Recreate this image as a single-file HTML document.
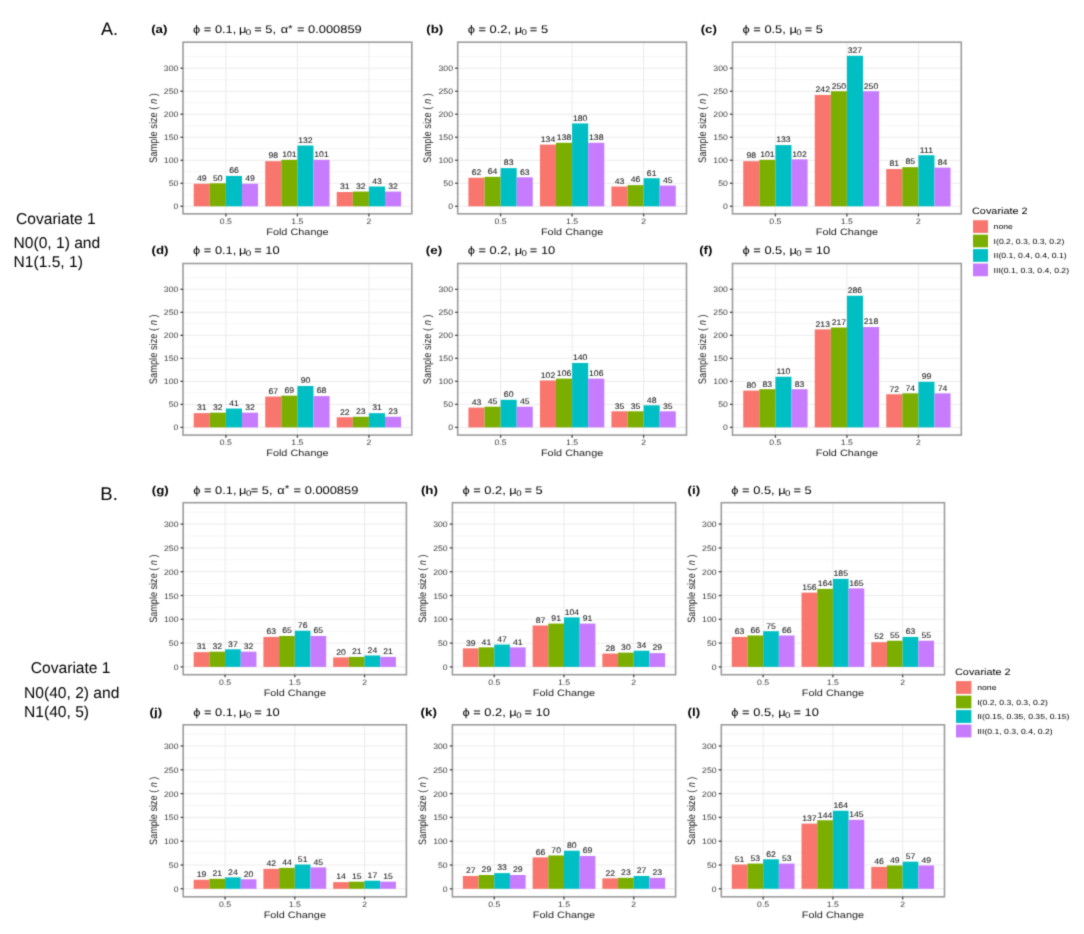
<!DOCTYPE html>
<html><head><meta charset="utf-8"><title>Sample size figure</title>
<style>
html,body{margin:0;padding:0;background:#fff;}
body{width:1084px;height:934px;overflow:hidden;}
svg{display:block;font-family:"Liberation Sans", sans-serif;text-rendering:geometricPrecision;}
.bl{stroke:#222;stroke-width:0.08px;}
</style></head>
<body>
<svg width="1084" height="934" viewBox="0 0 1084 934">
<defs><filter id="soft" x="0" y="0" width="1084" height="934" filterUnits="userSpaceOnUse" color-interpolation-filters="sRGB"><feConvolveMatrix order="3" kernelMatrix="0.0225 0.1050 0.0225 0.1050 0.4900 0.1050 0.0225 0.1050 0.0225" edgeMode="duplicate"/></filter></defs>
<g filter="url(#soft)">
<rect width="1084" height="934" fill="#fff"/>
<line x1="183.00" x2="411.80" y1="194.79" y2="194.79" stroke="#f2f2f2" stroke-width="0.8"/>
<line x1="183.00" x2="411.80" y1="171.78" y2="171.78" stroke="#f2f2f2" stroke-width="0.8"/>
<line x1="183.00" x2="411.80" y1="148.76" y2="148.76" stroke="#f2f2f2" stroke-width="0.8"/>
<line x1="183.00" x2="411.80" y1="125.75" y2="125.75" stroke="#f2f2f2" stroke-width="0.8"/>
<line x1="183.00" x2="411.80" y1="102.73" y2="102.73" stroke="#f2f2f2" stroke-width="0.8"/>
<line x1="183.00" x2="411.80" y1="79.72" y2="79.72" stroke="#f2f2f2" stroke-width="0.8"/>
<line x1="183.00" x2="411.80" y1="56.70" y2="56.70" stroke="#f2f2f2" stroke-width="0.8"/>
<line x1="183.00" x2="411.80" y1="45.20" y2="45.20" stroke="#f8f8f8" stroke-width="0.8"/>
<line x1="183.00" x2="411.80" y1="206.30" y2="206.30" stroke="#ebebeb" stroke-width="1"/>
<line x1="183.00" x2="411.80" y1="183.29" y2="183.29" stroke="#ebebeb" stroke-width="1"/>
<line x1="183.00" x2="411.80" y1="160.27" y2="160.27" stroke="#ebebeb" stroke-width="1"/>
<line x1="183.00" x2="411.80" y1="137.25" y2="137.25" stroke="#ebebeb" stroke-width="1"/>
<line x1="183.00" x2="411.80" y1="114.24" y2="114.24" stroke="#ebebeb" stroke-width="1"/>
<line x1="183.00" x2="411.80" y1="91.23" y2="91.23" stroke="#ebebeb" stroke-width="1"/>
<line x1="183.00" x2="411.80" y1="68.21" y2="68.21" stroke="#ebebeb" stroke-width="1"/>
<line x1="225.90" x2="225.90" y1="42.20" y2="213.80" stroke="#ebebeb" stroke-width="1"/>
<line x1="297.40" x2="297.40" y1="42.20" y2="213.80" stroke="#ebebeb" stroke-width="1"/>
<line x1="368.90" x2="368.90" y1="42.20" y2="213.80" stroke="#ebebeb" stroke-width="1"/>
<rect x="193.72" y="183.75" width="16.09" height="22.55" fill="#F8766D"/>
<rect x="209.81" y="183.29" width="16.09" height="23.02" fill="#7CAE00"/>
<rect x="225.90" y="175.92" width="16.09" height="30.38" fill="#00BFC4"/>
<rect x="241.99" y="183.75" width="16.09" height="22.55" fill="#C77CFF"/>
<rect x="265.22" y="161.19" width="16.09" height="45.11" fill="#F8766D"/>
<rect x="281.31" y="159.81" width="16.09" height="46.49" fill="#7CAE00"/>
<rect x="297.40" y="145.54" width="16.09" height="60.76" fill="#00BFC4"/>
<rect x="313.49" y="159.81" width="16.09" height="46.49" fill="#C77CFF"/>
<rect x="336.72" y="192.03" width="16.09" height="14.27" fill="#F8766D"/>
<rect x="352.81" y="191.57" width="16.09" height="14.73" fill="#7CAE00"/>
<rect x="368.90" y="186.51" width="16.09" height="19.79" fill="#00BFC4"/>
<rect x="384.99" y="191.57" width="16.09" height="14.73" fill="#C77CFF"/>
<text transform="translate(201.77,181.05) scale(1.07,1)" font-size="8.1" text-anchor="middle" font-weight="normal" fill="#222"  class="bl">49</text>
<text transform="translate(217.86,180.59) scale(1.07,1)" font-size="8.1" text-anchor="middle" font-weight="normal" fill="#222"  class="bl">50</text>
<text transform="translate(233.94,173.22) scale(1.07,1)" font-size="8.1" text-anchor="middle" font-weight="normal" fill="#222"  class="bl">66</text>
<text transform="translate(250.03,181.05) scale(1.07,1)" font-size="8.1" text-anchor="middle" font-weight="normal" fill="#222"  class="bl">49</text>
<text transform="translate(273.27,158.49) scale(1.07,1)" font-size="8.1" text-anchor="middle" font-weight="normal" fill="#222"  class="bl">98</text>
<text transform="translate(289.36,157.11) scale(1.07,1)" font-size="8.1" text-anchor="middle" font-weight="normal" fill="#222"  class="bl">101</text>
<text transform="translate(305.44,142.84) scale(1.07,1)" font-size="8.1" text-anchor="middle" font-weight="normal" fill="#222"  class="bl">132</text>
<text transform="translate(321.53,157.11) scale(1.07,1)" font-size="8.1" text-anchor="middle" font-weight="normal" fill="#222"  class="bl">101</text>
<text transform="translate(344.77,189.33) scale(1.07,1)" font-size="8.1" text-anchor="middle" font-weight="normal" fill="#222"  class="bl">31</text>
<text transform="translate(360.86,188.87) scale(1.07,1)" font-size="8.1" text-anchor="middle" font-weight="normal" fill="#222"  class="bl">32</text>
<text transform="translate(376.94,183.81) scale(1.07,1)" font-size="8.1" text-anchor="middle" font-weight="normal" fill="#222"  class="bl">43</text>
<text transform="translate(393.03,188.87) scale(1.07,1)" font-size="8.1" text-anchor="middle" font-weight="normal" fill="#222"  class="bl">32</text>
<rect x="183.00" y="42.20" width="228.80" height="171.60" fill="none" stroke="#9c9c9c" stroke-width="1.6"/>
<line x1="180.40" x2="183.00" y1="206.30" y2="206.30" stroke="#444" stroke-width="1.3"/>
<text transform="translate(178.30,209.30) scale(1.1,1)" font-size="7.9" text-anchor="end" font-weight="normal" fill="#3a3a3a" >0</text>
<line x1="180.40" x2="183.00" y1="183.29" y2="183.29" stroke="#444" stroke-width="1.3"/>
<text transform="translate(178.30,186.29) scale(1.1,1)" font-size="7.9" text-anchor="end" font-weight="normal" fill="#3a3a3a" >50</text>
<line x1="180.40" x2="183.00" y1="160.27" y2="160.27" stroke="#444" stroke-width="1.3"/>
<text transform="translate(178.30,163.27) scale(1.1,1)" font-size="7.9" text-anchor="end" font-weight="normal" fill="#3a3a3a" >100</text>
<line x1="180.40" x2="183.00" y1="137.25" y2="137.25" stroke="#444" stroke-width="1.3"/>
<text transform="translate(178.30,140.25) scale(1.1,1)" font-size="7.9" text-anchor="end" font-weight="normal" fill="#3a3a3a" >150</text>
<line x1="180.40" x2="183.00" y1="114.24" y2="114.24" stroke="#444" stroke-width="1.3"/>
<text transform="translate(178.30,117.24) scale(1.1,1)" font-size="7.9" text-anchor="end" font-weight="normal" fill="#3a3a3a" >200</text>
<line x1="180.40" x2="183.00" y1="91.23" y2="91.23" stroke="#444" stroke-width="1.3"/>
<text transform="translate(178.30,94.23) scale(1.1,1)" font-size="7.9" text-anchor="end" font-weight="normal" fill="#3a3a3a" >250</text>
<line x1="180.40" x2="183.00" y1="68.21" y2="68.21" stroke="#444" stroke-width="1.3"/>
<text transform="translate(178.30,71.21) scale(1.1,1)" font-size="7.9" text-anchor="end" font-weight="normal" fill="#3a3a3a" >300</text>
<line x1="225.90" x2="225.90" y1="213.80" y2="216.40" stroke="#444" stroke-width="1.3"/>
<text transform="translate(225.90,223.80) scale(1.1,1)" font-size="7.9" text-anchor="middle" font-weight="normal" fill="#3a3a3a" >0.5</text>
<line x1="297.40" x2="297.40" y1="213.80" y2="216.40" stroke="#444" stroke-width="1.3"/>
<text transform="translate(297.40,223.80) scale(1.1,1)" font-size="7.9" text-anchor="middle" font-weight="normal" fill="#3a3a3a" >1.5</text>
<line x1="368.90" x2="368.90" y1="213.80" y2="216.40" stroke="#444" stroke-width="1.3"/>
<text transform="translate(368.90,223.80) scale(1.1,1)" font-size="7.9" text-anchor="middle" font-weight="normal" fill="#3a3a3a" >2</text>
<text transform="translate(297.40,234.70) scale(1.17,1)" font-size="9.3" text-anchor="middle" font-weight="normal" fill="#1a1a1a" >Fold Change</text>
<text transform="translate(156.70,128.00) scale(1.17,1) rotate(-90)" font-size="9.3" text-anchor="middle" fill="#1a1a1a">Sample size ( <tspan font-style="italic">n</tspan> )</text>
<text transform="translate(151.15,33.10) scale(1.17,1)" font-size="11.4" text-anchor="start" font-weight="bold" fill="#000" >(a)</text>
<text transform="translate(193.00,33.10) scale(1.17,1)" font-size="11" fill="#000">ϕ = 0.1, <tspan dx="-0.85">μ</tspan><tspan font-size="8.3" dx="-0.51" dy="1.9">0</tspan><tspan dx="-0.51" dy="-1.9"> = 5</tspan><tspan>, </tspan><tspan dx="0.94">α</tspan><tspan font-size="10.2" dy="-1.6">*</tspan><tspan dx="0.51" dy="1.6"> = 0.000859</tspan></text>
<line x1="457.70" x2="686.50" y1="194.79" y2="194.79" stroke="#f2f2f2" stroke-width="0.8"/>
<line x1="457.70" x2="686.50" y1="171.78" y2="171.78" stroke="#f2f2f2" stroke-width="0.8"/>
<line x1="457.70" x2="686.50" y1="148.76" y2="148.76" stroke="#f2f2f2" stroke-width="0.8"/>
<line x1="457.70" x2="686.50" y1="125.75" y2="125.75" stroke="#f2f2f2" stroke-width="0.8"/>
<line x1="457.70" x2="686.50" y1="102.73" y2="102.73" stroke="#f2f2f2" stroke-width="0.8"/>
<line x1="457.70" x2="686.50" y1="79.72" y2="79.72" stroke="#f2f2f2" stroke-width="0.8"/>
<line x1="457.70" x2="686.50" y1="56.70" y2="56.70" stroke="#f2f2f2" stroke-width="0.8"/>
<line x1="457.70" x2="686.50" y1="45.20" y2="45.20" stroke="#f8f8f8" stroke-width="0.8"/>
<line x1="457.70" x2="686.50" y1="206.30" y2="206.30" stroke="#ebebeb" stroke-width="1"/>
<line x1="457.70" x2="686.50" y1="183.29" y2="183.29" stroke="#ebebeb" stroke-width="1"/>
<line x1="457.70" x2="686.50" y1="160.27" y2="160.27" stroke="#ebebeb" stroke-width="1"/>
<line x1="457.70" x2="686.50" y1="137.25" y2="137.25" stroke="#ebebeb" stroke-width="1"/>
<line x1="457.70" x2="686.50" y1="114.24" y2="114.24" stroke="#ebebeb" stroke-width="1"/>
<line x1="457.70" x2="686.50" y1="91.23" y2="91.23" stroke="#ebebeb" stroke-width="1"/>
<line x1="457.70" x2="686.50" y1="68.21" y2="68.21" stroke="#ebebeb" stroke-width="1"/>
<line x1="500.60" x2="500.60" y1="42.20" y2="213.80" stroke="#ebebeb" stroke-width="1"/>
<line x1="572.10" x2="572.10" y1="42.20" y2="213.80" stroke="#ebebeb" stroke-width="1"/>
<line x1="643.60" x2="643.60" y1="42.20" y2="213.80" stroke="#ebebeb" stroke-width="1"/>
<rect x="468.42" y="177.76" width="16.09" height="28.54" fill="#F8766D"/>
<rect x="484.51" y="176.84" width="16.09" height="29.46" fill="#7CAE00"/>
<rect x="500.60" y="168.10" width="16.09" height="38.20" fill="#00BFC4"/>
<rect x="516.69" y="177.30" width="16.09" height="29.00" fill="#C77CFF"/>
<rect x="539.93" y="144.62" width="16.09" height="61.68" fill="#F8766D"/>
<rect x="556.01" y="142.78" width="16.09" height="63.52" fill="#7CAE00"/>
<rect x="572.10" y="123.45" width="16.09" height="82.85" fill="#00BFC4"/>
<rect x="588.19" y="142.78" width="16.09" height="63.52" fill="#C77CFF"/>
<rect x="611.43" y="186.51" width="16.09" height="19.79" fill="#F8766D"/>
<rect x="627.51" y="185.13" width="16.09" height="21.17" fill="#7CAE00"/>
<rect x="643.60" y="178.22" width="16.09" height="28.08" fill="#00BFC4"/>
<rect x="659.69" y="185.59" width="16.09" height="20.71" fill="#C77CFF"/>
<text transform="translate(476.47,175.06) scale(1.07,1)" font-size="8.1" text-anchor="middle" font-weight="normal" fill="#222"  class="bl">62</text>
<text transform="translate(492.56,174.14) scale(1.07,1)" font-size="8.1" text-anchor="middle" font-weight="normal" fill="#222"  class="bl">64</text>
<text transform="translate(508.64,165.40) scale(1.07,1)" font-size="8.1" text-anchor="middle" font-weight="normal" fill="#222"  class="bl">83</text>
<text transform="translate(524.73,174.60) scale(1.07,1)" font-size="8.1" text-anchor="middle" font-weight="normal" fill="#222"  class="bl">63</text>
<text transform="translate(547.97,141.92) scale(1.07,1)" font-size="8.1" text-anchor="middle" font-weight="normal" fill="#222"  class="bl">134</text>
<text transform="translate(564.06,140.08) scale(1.07,1)" font-size="8.1" text-anchor="middle" font-weight="normal" fill="#222"  class="bl">138</text>
<text transform="translate(580.14,120.75) scale(1.07,1)" font-size="8.1" text-anchor="middle" font-weight="normal" fill="#222"  class="bl">180</text>
<text transform="translate(596.23,140.08) scale(1.07,1)" font-size="8.1" text-anchor="middle" font-weight="normal" fill="#222"  class="bl">138</text>
<text transform="translate(619.47,183.81) scale(1.07,1)" font-size="8.1" text-anchor="middle" font-weight="normal" fill="#222"  class="bl">43</text>
<text transform="translate(635.56,182.43) scale(1.07,1)" font-size="8.1" text-anchor="middle" font-weight="normal" fill="#222"  class="bl">46</text>
<text transform="translate(651.64,175.52) scale(1.07,1)" font-size="8.1" text-anchor="middle" font-weight="normal" fill="#222"  class="bl">61</text>
<text transform="translate(667.73,182.89) scale(1.07,1)" font-size="8.1" text-anchor="middle" font-weight="normal" fill="#222"  class="bl">45</text>
<rect x="457.70" y="42.20" width="228.80" height="171.60" fill="none" stroke="#9c9c9c" stroke-width="1.6"/>
<line x1="455.10" x2="457.70" y1="206.30" y2="206.30" stroke="#444" stroke-width="1.3"/>
<text transform="translate(453.00,209.30) scale(1.1,1)" font-size="7.9" text-anchor="end" font-weight="normal" fill="#3a3a3a" >0</text>
<line x1="455.10" x2="457.70" y1="183.29" y2="183.29" stroke="#444" stroke-width="1.3"/>
<text transform="translate(453.00,186.29) scale(1.1,1)" font-size="7.9" text-anchor="end" font-weight="normal" fill="#3a3a3a" >50</text>
<line x1="455.10" x2="457.70" y1="160.27" y2="160.27" stroke="#444" stroke-width="1.3"/>
<text transform="translate(453.00,163.27) scale(1.1,1)" font-size="7.9" text-anchor="end" font-weight="normal" fill="#3a3a3a" >100</text>
<line x1="455.10" x2="457.70" y1="137.25" y2="137.25" stroke="#444" stroke-width="1.3"/>
<text transform="translate(453.00,140.25) scale(1.1,1)" font-size="7.9" text-anchor="end" font-weight="normal" fill="#3a3a3a" >150</text>
<line x1="455.10" x2="457.70" y1="114.24" y2="114.24" stroke="#444" stroke-width="1.3"/>
<text transform="translate(453.00,117.24) scale(1.1,1)" font-size="7.9" text-anchor="end" font-weight="normal" fill="#3a3a3a" >200</text>
<line x1="455.10" x2="457.70" y1="91.23" y2="91.23" stroke="#444" stroke-width="1.3"/>
<text transform="translate(453.00,94.23) scale(1.1,1)" font-size="7.9" text-anchor="end" font-weight="normal" fill="#3a3a3a" >250</text>
<line x1="455.10" x2="457.70" y1="68.21" y2="68.21" stroke="#444" stroke-width="1.3"/>
<text transform="translate(453.00,71.21) scale(1.1,1)" font-size="7.9" text-anchor="end" font-weight="normal" fill="#3a3a3a" >300</text>
<line x1="500.60" x2="500.60" y1="213.80" y2="216.40" stroke="#444" stroke-width="1.3"/>
<text transform="translate(500.60,223.80) scale(1.1,1)" font-size="7.9" text-anchor="middle" font-weight="normal" fill="#3a3a3a" >0.5</text>
<line x1="572.10" x2="572.10" y1="213.80" y2="216.40" stroke="#444" stroke-width="1.3"/>
<text transform="translate(572.10,223.80) scale(1.1,1)" font-size="7.9" text-anchor="middle" font-weight="normal" fill="#3a3a3a" >1.5</text>
<line x1="643.60" x2="643.60" y1="213.80" y2="216.40" stroke="#444" stroke-width="1.3"/>
<text transform="translate(643.60,223.80) scale(1.1,1)" font-size="7.9" text-anchor="middle" font-weight="normal" fill="#3a3a3a" >2</text>
<text transform="translate(572.10,234.70) scale(1.17,1)" font-size="9.3" text-anchor="middle" font-weight="normal" fill="#1a1a1a" >Fold Change</text>
<text transform="translate(431.40,128.00) scale(1.17,1) rotate(-90)" font-size="9.3" text-anchor="middle" fill="#1a1a1a">Sample size ( <tspan font-style="italic">n</tspan> )</text>
<text transform="translate(426.21,33.10) scale(1.17,1)" font-size="11.4" text-anchor="start" font-weight="bold" fill="#000" >(b)</text>
<text transform="translate(467.70,33.10) scale(1.17,1)" font-size="11" fill="#000">ϕ = 0.2, <tspan dx="0.00">μ</tspan><tspan font-size="8.3" dx="-0.51" dy="1.9">0</tspan><tspan dx="-0.51" dy="-1.9"> = 5</tspan></text>
<line x1="732.50" x2="961.30" y1="194.79" y2="194.79" stroke="#f2f2f2" stroke-width="0.8"/>
<line x1="732.50" x2="961.30" y1="171.78" y2="171.78" stroke="#f2f2f2" stroke-width="0.8"/>
<line x1="732.50" x2="961.30" y1="148.76" y2="148.76" stroke="#f2f2f2" stroke-width="0.8"/>
<line x1="732.50" x2="961.30" y1="125.75" y2="125.75" stroke="#f2f2f2" stroke-width="0.8"/>
<line x1="732.50" x2="961.30" y1="102.73" y2="102.73" stroke="#f2f2f2" stroke-width="0.8"/>
<line x1="732.50" x2="961.30" y1="79.72" y2="79.72" stroke="#f2f2f2" stroke-width="0.8"/>
<line x1="732.50" x2="961.30" y1="56.70" y2="56.70" stroke="#f2f2f2" stroke-width="0.8"/>
<line x1="732.50" x2="961.30" y1="45.20" y2="45.20" stroke="#f8f8f8" stroke-width="0.8"/>
<line x1="732.50" x2="961.30" y1="206.30" y2="206.30" stroke="#ebebeb" stroke-width="1"/>
<line x1="732.50" x2="961.30" y1="183.29" y2="183.29" stroke="#ebebeb" stroke-width="1"/>
<line x1="732.50" x2="961.30" y1="160.27" y2="160.27" stroke="#ebebeb" stroke-width="1"/>
<line x1="732.50" x2="961.30" y1="137.25" y2="137.25" stroke="#ebebeb" stroke-width="1"/>
<line x1="732.50" x2="961.30" y1="114.24" y2="114.24" stroke="#ebebeb" stroke-width="1"/>
<line x1="732.50" x2="961.30" y1="91.23" y2="91.23" stroke="#ebebeb" stroke-width="1"/>
<line x1="732.50" x2="961.30" y1="68.21" y2="68.21" stroke="#ebebeb" stroke-width="1"/>
<line x1="775.40" x2="775.40" y1="42.20" y2="213.80" stroke="#ebebeb" stroke-width="1"/>
<line x1="846.90" x2="846.90" y1="42.20" y2="213.80" stroke="#ebebeb" stroke-width="1"/>
<line x1="918.40" x2="918.40" y1="42.20" y2="213.80" stroke="#ebebeb" stroke-width="1"/>
<rect x="743.23" y="161.19" width="16.09" height="45.11" fill="#F8766D"/>
<rect x="759.31" y="159.81" width="16.09" height="46.49" fill="#7CAE00"/>
<rect x="775.40" y="145.08" width="16.09" height="61.22" fill="#00BFC4"/>
<rect x="791.49" y="159.35" width="16.09" height="46.95" fill="#C77CFF"/>
<rect x="814.73" y="94.91" width="16.09" height="111.39" fill="#F8766D"/>
<rect x="830.81" y="91.23" width="16.09" height="115.08" fill="#7CAE00"/>
<rect x="846.90" y="55.78" width="16.09" height="150.52" fill="#00BFC4"/>
<rect x="862.99" y="91.23" width="16.09" height="115.08" fill="#C77CFF"/>
<rect x="886.23" y="169.02" width="16.09" height="37.28" fill="#F8766D"/>
<rect x="902.31" y="167.17" width="16.09" height="39.13" fill="#7CAE00"/>
<rect x="918.40" y="155.21" width="16.09" height="51.09" fill="#00BFC4"/>
<rect x="934.49" y="167.63" width="16.09" height="38.67" fill="#C77CFF"/>
<text transform="translate(751.27,158.49) scale(1.07,1)" font-size="8.1" text-anchor="middle" font-weight="normal" fill="#222"  class="bl">98</text>
<text transform="translate(767.36,157.11) scale(1.07,1)" font-size="8.1" text-anchor="middle" font-weight="normal" fill="#222"  class="bl">101</text>
<text transform="translate(783.44,142.38) scale(1.07,1)" font-size="8.1" text-anchor="middle" font-weight="normal" fill="#222"  class="bl">133</text>
<text transform="translate(799.53,156.65) scale(1.07,1)" font-size="8.1" text-anchor="middle" font-weight="normal" fill="#222"  class="bl">102</text>
<text transform="translate(822.77,92.21) scale(1.07,1)" font-size="8.1" text-anchor="middle" font-weight="normal" fill="#222"  class="bl">242</text>
<text transform="translate(838.86,88.53) scale(1.07,1)" font-size="8.1" text-anchor="middle" font-weight="normal" fill="#222"  class="bl">250</text>
<text transform="translate(854.94,53.08) scale(1.07,1)" font-size="8.1" text-anchor="middle" font-weight="normal" fill="#222"  class="bl">327</text>
<text transform="translate(871.03,88.53) scale(1.07,1)" font-size="8.1" text-anchor="middle" font-weight="normal" fill="#222"  class="bl">250</text>
<text transform="translate(894.27,166.32) scale(1.07,1)" font-size="8.1" text-anchor="middle" font-weight="normal" fill="#222"  class="bl">81</text>
<text transform="translate(910.36,164.47) scale(1.07,1)" font-size="8.1" text-anchor="middle" font-weight="normal" fill="#222"  class="bl">85</text>
<text transform="translate(926.44,152.51) scale(1.07,1)" font-size="8.1" text-anchor="middle" font-weight="normal" fill="#222"  class="bl">111</text>
<text transform="translate(942.53,164.93) scale(1.07,1)" font-size="8.1" text-anchor="middle" font-weight="normal" fill="#222"  class="bl">84</text>
<rect x="732.50" y="42.20" width="228.80" height="171.60" fill="none" stroke="#9c9c9c" stroke-width="1.6"/>
<line x1="729.90" x2="732.50" y1="206.30" y2="206.30" stroke="#444" stroke-width="1.3"/>
<text transform="translate(727.80,209.30) scale(1.1,1)" font-size="7.9" text-anchor="end" font-weight="normal" fill="#3a3a3a" >0</text>
<line x1="729.90" x2="732.50" y1="183.29" y2="183.29" stroke="#444" stroke-width="1.3"/>
<text transform="translate(727.80,186.29) scale(1.1,1)" font-size="7.9" text-anchor="end" font-weight="normal" fill="#3a3a3a" >50</text>
<line x1="729.90" x2="732.50" y1="160.27" y2="160.27" stroke="#444" stroke-width="1.3"/>
<text transform="translate(727.80,163.27) scale(1.1,1)" font-size="7.9" text-anchor="end" font-weight="normal" fill="#3a3a3a" >100</text>
<line x1="729.90" x2="732.50" y1="137.25" y2="137.25" stroke="#444" stroke-width="1.3"/>
<text transform="translate(727.80,140.25) scale(1.1,1)" font-size="7.9" text-anchor="end" font-weight="normal" fill="#3a3a3a" >150</text>
<line x1="729.90" x2="732.50" y1="114.24" y2="114.24" stroke="#444" stroke-width="1.3"/>
<text transform="translate(727.80,117.24) scale(1.1,1)" font-size="7.9" text-anchor="end" font-weight="normal" fill="#3a3a3a" >200</text>
<line x1="729.90" x2="732.50" y1="91.23" y2="91.23" stroke="#444" stroke-width="1.3"/>
<text transform="translate(727.80,94.23) scale(1.1,1)" font-size="7.9" text-anchor="end" font-weight="normal" fill="#3a3a3a" >250</text>
<line x1="729.90" x2="732.50" y1="68.21" y2="68.21" stroke="#444" stroke-width="1.3"/>
<text transform="translate(727.80,71.21) scale(1.1,1)" font-size="7.9" text-anchor="end" font-weight="normal" fill="#3a3a3a" >300</text>
<line x1="775.40" x2="775.40" y1="213.80" y2="216.40" stroke="#444" stroke-width="1.3"/>
<text transform="translate(775.40,223.80) scale(1.1,1)" font-size="7.9" text-anchor="middle" font-weight="normal" fill="#3a3a3a" >0.5</text>
<line x1="846.90" x2="846.90" y1="213.80" y2="216.40" stroke="#444" stroke-width="1.3"/>
<text transform="translate(846.90,223.80) scale(1.1,1)" font-size="7.9" text-anchor="middle" font-weight="normal" fill="#3a3a3a" >1.5</text>
<line x1="918.40" x2="918.40" y1="213.80" y2="216.40" stroke="#444" stroke-width="1.3"/>
<text transform="translate(918.40,223.80) scale(1.1,1)" font-size="7.9" text-anchor="middle" font-weight="normal" fill="#3a3a3a" >2</text>
<text transform="translate(846.90,234.70) scale(1.17,1)" font-size="9.3" text-anchor="middle" font-weight="normal" fill="#1a1a1a" >Fold Change</text>
<text transform="translate(706.20,128.00) scale(1.17,1) rotate(-90)" font-size="9.3" text-anchor="middle" fill="#1a1a1a">Sample size ( <tspan font-style="italic">n</tspan> )</text>
<text transform="translate(700.65,33.10) scale(1.17,1)" font-size="11.4" text-anchor="start" font-weight="bold" fill="#000" >(c)</text>
<text transform="translate(742.50,33.10) scale(1.17,1)" font-size="11" fill="#000">ϕ = 0.5, <tspan dx="0.00">μ</tspan><tspan font-size="8.3" dx="-0.51" dy="1.9">0</tspan><tspan dx="-0.51" dy="-1.9"> = 5</tspan></text>
<line x1="183.00" x2="411.80" y1="415.89" y2="415.89" stroke="#f2f2f2" stroke-width="0.8"/>
<line x1="183.00" x2="411.80" y1="392.88" y2="392.88" stroke="#f2f2f2" stroke-width="0.8"/>
<line x1="183.00" x2="411.80" y1="369.86" y2="369.86" stroke="#f2f2f2" stroke-width="0.8"/>
<line x1="183.00" x2="411.80" y1="346.85" y2="346.85" stroke="#f2f2f2" stroke-width="0.8"/>
<line x1="183.00" x2="411.80" y1="323.83" y2="323.83" stroke="#f2f2f2" stroke-width="0.8"/>
<line x1="183.00" x2="411.80" y1="300.82" y2="300.82" stroke="#f2f2f2" stroke-width="0.8"/>
<line x1="183.00" x2="411.80" y1="277.80" y2="277.80" stroke="#f2f2f2" stroke-width="0.8"/>
<line x1="183.00" x2="411.80" y1="266.29" y2="266.29" stroke="#f8f8f8" stroke-width="0.8"/>
<line x1="183.00" x2="411.80" y1="427.40" y2="427.40" stroke="#ebebeb" stroke-width="1"/>
<line x1="183.00" x2="411.80" y1="404.38" y2="404.38" stroke="#ebebeb" stroke-width="1"/>
<line x1="183.00" x2="411.80" y1="381.37" y2="381.37" stroke="#ebebeb" stroke-width="1"/>
<line x1="183.00" x2="411.80" y1="358.35" y2="358.35" stroke="#ebebeb" stroke-width="1"/>
<line x1="183.00" x2="411.80" y1="335.34" y2="335.34" stroke="#ebebeb" stroke-width="1"/>
<line x1="183.00" x2="411.80" y1="312.32" y2="312.32" stroke="#ebebeb" stroke-width="1"/>
<line x1="183.00" x2="411.80" y1="289.31" y2="289.31" stroke="#ebebeb" stroke-width="1"/>
<line x1="225.90" x2="225.90" y1="263.50" y2="435.10" stroke="#ebebeb" stroke-width="1"/>
<line x1="297.40" x2="297.40" y1="263.50" y2="435.10" stroke="#ebebeb" stroke-width="1"/>
<line x1="368.90" x2="368.90" y1="263.50" y2="435.10" stroke="#ebebeb" stroke-width="1"/>
<rect x="193.72" y="413.13" width="16.09" height="14.27" fill="#F8766D"/>
<rect x="209.81" y="412.67" width="16.09" height="14.73" fill="#7CAE00"/>
<rect x="225.90" y="408.53" width="16.09" height="18.87" fill="#00BFC4"/>
<rect x="241.99" y="412.67" width="16.09" height="14.73" fill="#C77CFF"/>
<rect x="265.22" y="396.56" width="16.09" height="30.84" fill="#F8766D"/>
<rect x="281.31" y="395.64" width="16.09" height="31.76" fill="#7CAE00"/>
<rect x="297.40" y="385.97" width="16.09" height="41.43" fill="#00BFC4"/>
<rect x="313.49" y="396.10" width="16.09" height="31.30" fill="#C77CFF"/>
<rect x="336.72" y="417.27" width="16.09" height="10.13" fill="#F8766D"/>
<rect x="352.81" y="416.81" width="16.09" height="10.59" fill="#7CAE00"/>
<rect x="368.90" y="413.13" width="16.09" height="14.27" fill="#00BFC4"/>
<rect x="384.99" y="416.81" width="16.09" height="10.59" fill="#C77CFF"/>
<text transform="translate(201.77,410.43) scale(1.07,1)" font-size="8.1" text-anchor="middle" font-weight="normal" fill="#222"  class="bl">31</text>
<text transform="translate(217.86,409.97) scale(1.07,1)" font-size="8.1" text-anchor="middle" font-weight="normal" fill="#222"  class="bl">32</text>
<text transform="translate(233.94,405.83) scale(1.07,1)" font-size="8.1" text-anchor="middle" font-weight="normal" fill="#222"  class="bl">41</text>
<text transform="translate(250.03,409.97) scale(1.07,1)" font-size="8.1" text-anchor="middle" font-weight="normal" fill="#222"  class="bl">32</text>
<text transform="translate(273.27,393.86) scale(1.07,1)" font-size="8.1" text-anchor="middle" font-weight="normal" fill="#222"  class="bl">67</text>
<text transform="translate(289.36,392.94) scale(1.07,1)" font-size="8.1" text-anchor="middle" font-weight="normal" fill="#222"  class="bl">69</text>
<text transform="translate(305.44,383.27) scale(1.07,1)" font-size="8.1" text-anchor="middle" font-weight="normal" fill="#222"  class="bl">90</text>
<text transform="translate(321.53,393.40) scale(1.07,1)" font-size="8.1" text-anchor="middle" font-weight="normal" fill="#222"  class="bl">68</text>
<text transform="translate(344.77,414.57) scale(1.07,1)" font-size="8.1" text-anchor="middle" font-weight="normal" fill="#222"  class="bl">22</text>
<text transform="translate(360.86,414.11) scale(1.07,1)" font-size="8.1" text-anchor="middle" font-weight="normal" fill="#222"  class="bl">23</text>
<text transform="translate(376.94,410.43) scale(1.07,1)" font-size="8.1" text-anchor="middle" font-weight="normal" fill="#222"  class="bl">31</text>
<text transform="translate(393.03,414.11) scale(1.07,1)" font-size="8.1" text-anchor="middle" font-weight="normal" fill="#222"  class="bl">23</text>
<rect x="183.00" y="263.50" width="228.80" height="171.60" fill="none" stroke="#9c9c9c" stroke-width="1.6"/>
<line x1="180.40" x2="183.00" y1="427.40" y2="427.40" stroke="#444" stroke-width="1.3"/>
<text transform="translate(178.30,430.40) scale(1.1,1)" font-size="7.9" text-anchor="end" font-weight="normal" fill="#3a3a3a" >0</text>
<line x1="180.40" x2="183.00" y1="404.38" y2="404.38" stroke="#444" stroke-width="1.3"/>
<text transform="translate(178.30,407.38) scale(1.1,1)" font-size="7.9" text-anchor="end" font-weight="normal" fill="#3a3a3a" >50</text>
<line x1="180.40" x2="183.00" y1="381.37" y2="381.37" stroke="#444" stroke-width="1.3"/>
<text transform="translate(178.30,384.37) scale(1.1,1)" font-size="7.9" text-anchor="end" font-weight="normal" fill="#3a3a3a" >100</text>
<line x1="180.40" x2="183.00" y1="358.35" y2="358.35" stroke="#444" stroke-width="1.3"/>
<text transform="translate(178.30,361.35) scale(1.1,1)" font-size="7.9" text-anchor="end" font-weight="normal" fill="#3a3a3a" >150</text>
<line x1="180.40" x2="183.00" y1="335.34" y2="335.34" stroke="#444" stroke-width="1.3"/>
<text transform="translate(178.30,338.34) scale(1.1,1)" font-size="7.9" text-anchor="end" font-weight="normal" fill="#3a3a3a" >200</text>
<line x1="180.40" x2="183.00" y1="312.32" y2="312.32" stroke="#444" stroke-width="1.3"/>
<text transform="translate(178.30,315.32) scale(1.1,1)" font-size="7.9" text-anchor="end" font-weight="normal" fill="#3a3a3a" >250</text>
<line x1="180.40" x2="183.00" y1="289.31" y2="289.31" stroke="#444" stroke-width="1.3"/>
<text transform="translate(178.30,292.31) scale(1.1,1)" font-size="7.9" text-anchor="end" font-weight="normal" fill="#3a3a3a" >300</text>
<line x1="225.90" x2="225.90" y1="435.10" y2="437.70" stroke="#444" stroke-width="1.3"/>
<text transform="translate(225.90,445.10) scale(1.1,1)" font-size="7.9" text-anchor="middle" font-weight="normal" fill="#3a3a3a" >0.5</text>
<line x1="297.40" x2="297.40" y1="435.10" y2="437.70" stroke="#444" stroke-width="1.3"/>
<text transform="translate(297.40,445.10) scale(1.1,1)" font-size="7.9" text-anchor="middle" font-weight="normal" fill="#3a3a3a" >1.5</text>
<line x1="368.90" x2="368.90" y1="435.10" y2="437.70" stroke="#444" stroke-width="1.3"/>
<text transform="translate(368.90,445.10) scale(1.1,1)" font-size="7.9" text-anchor="middle" font-weight="normal" fill="#3a3a3a" >2</text>
<text transform="translate(297.40,456.00) scale(1.17,1)" font-size="9.3" text-anchor="middle" font-weight="normal" fill="#1a1a1a" >Fold Change</text>
<text transform="translate(156.70,349.30) scale(1.17,1) rotate(-90)" font-size="9.3" text-anchor="middle" fill="#1a1a1a">Sample size ( <tspan font-style="italic">n</tspan> )</text>
<text transform="translate(151.51,254.40) scale(1.17,1)" font-size="11.4" text-anchor="start" font-weight="bold" fill="#000" >(d)</text>
<text transform="translate(193.00,254.40) scale(1.17,1)" font-size="11" fill="#000">ϕ = 0.1, <tspan dx="-0.85">μ</tspan><tspan font-size="8.3" dx="-0.51" dy="1.9">0</tspan><tspan dx="-0.51" dy="-1.9"> = 10</tspan></text>
<line x1="457.70" x2="686.50" y1="415.89" y2="415.89" stroke="#f2f2f2" stroke-width="0.8"/>
<line x1="457.70" x2="686.50" y1="392.88" y2="392.88" stroke="#f2f2f2" stroke-width="0.8"/>
<line x1="457.70" x2="686.50" y1="369.86" y2="369.86" stroke="#f2f2f2" stroke-width="0.8"/>
<line x1="457.70" x2="686.50" y1="346.85" y2="346.85" stroke="#f2f2f2" stroke-width="0.8"/>
<line x1="457.70" x2="686.50" y1="323.83" y2="323.83" stroke="#f2f2f2" stroke-width="0.8"/>
<line x1="457.70" x2="686.50" y1="300.82" y2="300.82" stroke="#f2f2f2" stroke-width="0.8"/>
<line x1="457.70" x2="686.50" y1="277.80" y2="277.80" stroke="#f2f2f2" stroke-width="0.8"/>
<line x1="457.70" x2="686.50" y1="266.29" y2="266.29" stroke="#f8f8f8" stroke-width="0.8"/>
<line x1="457.70" x2="686.50" y1="427.40" y2="427.40" stroke="#ebebeb" stroke-width="1"/>
<line x1="457.70" x2="686.50" y1="404.38" y2="404.38" stroke="#ebebeb" stroke-width="1"/>
<line x1="457.70" x2="686.50" y1="381.37" y2="381.37" stroke="#ebebeb" stroke-width="1"/>
<line x1="457.70" x2="686.50" y1="358.35" y2="358.35" stroke="#ebebeb" stroke-width="1"/>
<line x1="457.70" x2="686.50" y1="335.34" y2="335.34" stroke="#ebebeb" stroke-width="1"/>
<line x1="457.70" x2="686.50" y1="312.32" y2="312.32" stroke="#ebebeb" stroke-width="1"/>
<line x1="457.70" x2="686.50" y1="289.31" y2="289.31" stroke="#ebebeb" stroke-width="1"/>
<line x1="500.60" x2="500.60" y1="263.50" y2="435.10" stroke="#ebebeb" stroke-width="1"/>
<line x1="572.10" x2="572.10" y1="263.50" y2="435.10" stroke="#ebebeb" stroke-width="1"/>
<line x1="643.60" x2="643.60" y1="263.50" y2="435.10" stroke="#ebebeb" stroke-width="1"/>
<rect x="468.42" y="407.61" width="16.09" height="19.79" fill="#F8766D"/>
<rect x="484.51" y="406.69" width="16.09" height="20.71" fill="#7CAE00"/>
<rect x="500.60" y="399.78" width="16.09" height="27.62" fill="#00BFC4"/>
<rect x="516.69" y="406.69" width="16.09" height="20.71" fill="#C77CFF"/>
<rect x="539.93" y="380.45" width="16.09" height="46.95" fill="#F8766D"/>
<rect x="556.01" y="378.61" width="16.09" height="48.79" fill="#7CAE00"/>
<rect x="572.10" y="362.96" width="16.09" height="64.44" fill="#00BFC4"/>
<rect x="588.19" y="378.61" width="16.09" height="48.79" fill="#C77CFF"/>
<rect x="611.43" y="411.29" width="16.09" height="16.11" fill="#F8766D"/>
<rect x="627.51" y="411.29" width="16.09" height="16.11" fill="#7CAE00"/>
<rect x="643.60" y="405.31" width="16.09" height="22.09" fill="#00BFC4"/>
<rect x="659.69" y="411.29" width="16.09" height="16.11" fill="#C77CFF"/>
<text transform="translate(476.47,404.91) scale(1.07,1)" font-size="8.1" text-anchor="middle" font-weight="normal" fill="#222"  class="bl">43</text>
<text transform="translate(492.56,403.99) scale(1.07,1)" font-size="8.1" text-anchor="middle" font-weight="normal" fill="#222"  class="bl">45</text>
<text transform="translate(508.64,397.08) scale(1.07,1)" font-size="8.1" text-anchor="middle" font-weight="normal" fill="#222"  class="bl">60</text>
<text transform="translate(524.73,403.99) scale(1.07,1)" font-size="8.1" text-anchor="middle" font-weight="normal" fill="#222"  class="bl">45</text>
<text transform="translate(547.97,377.75) scale(1.07,1)" font-size="8.1" text-anchor="middle" font-weight="normal" fill="#222"  class="bl">102</text>
<text transform="translate(564.06,375.91) scale(1.07,1)" font-size="8.1" text-anchor="middle" font-weight="normal" fill="#222"  class="bl">106</text>
<text transform="translate(580.14,360.26) scale(1.07,1)" font-size="8.1" text-anchor="middle" font-weight="normal" fill="#222"  class="bl">140</text>
<text transform="translate(596.23,375.91) scale(1.07,1)" font-size="8.1" text-anchor="middle" font-weight="normal" fill="#222"  class="bl">106</text>
<text transform="translate(619.47,408.59) scale(1.07,1)" font-size="8.1" text-anchor="middle" font-weight="normal" fill="#222"  class="bl">35</text>
<text transform="translate(635.56,408.59) scale(1.07,1)" font-size="8.1" text-anchor="middle" font-weight="normal" fill="#222"  class="bl">35</text>
<text transform="translate(651.64,402.61) scale(1.07,1)" font-size="8.1" text-anchor="middle" font-weight="normal" fill="#222"  class="bl">48</text>
<text transform="translate(667.73,408.59) scale(1.07,1)" font-size="8.1" text-anchor="middle" font-weight="normal" fill="#222"  class="bl">35</text>
<rect x="457.70" y="263.50" width="228.80" height="171.60" fill="none" stroke="#9c9c9c" stroke-width="1.6"/>
<line x1="455.10" x2="457.70" y1="427.40" y2="427.40" stroke="#444" stroke-width="1.3"/>
<text transform="translate(453.00,430.40) scale(1.1,1)" font-size="7.9" text-anchor="end" font-weight="normal" fill="#3a3a3a" >0</text>
<line x1="455.10" x2="457.70" y1="404.38" y2="404.38" stroke="#444" stroke-width="1.3"/>
<text transform="translate(453.00,407.38) scale(1.1,1)" font-size="7.9" text-anchor="end" font-weight="normal" fill="#3a3a3a" >50</text>
<line x1="455.10" x2="457.70" y1="381.37" y2="381.37" stroke="#444" stroke-width="1.3"/>
<text transform="translate(453.00,384.37) scale(1.1,1)" font-size="7.9" text-anchor="end" font-weight="normal" fill="#3a3a3a" >100</text>
<line x1="455.10" x2="457.70" y1="358.35" y2="358.35" stroke="#444" stroke-width="1.3"/>
<text transform="translate(453.00,361.35) scale(1.1,1)" font-size="7.9" text-anchor="end" font-weight="normal" fill="#3a3a3a" >150</text>
<line x1="455.10" x2="457.70" y1="335.34" y2="335.34" stroke="#444" stroke-width="1.3"/>
<text transform="translate(453.00,338.34) scale(1.1,1)" font-size="7.9" text-anchor="end" font-weight="normal" fill="#3a3a3a" >200</text>
<line x1="455.10" x2="457.70" y1="312.32" y2="312.32" stroke="#444" stroke-width="1.3"/>
<text transform="translate(453.00,315.32) scale(1.1,1)" font-size="7.9" text-anchor="end" font-weight="normal" fill="#3a3a3a" >250</text>
<line x1="455.10" x2="457.70" y1="289.31" y2="289.31" stroke="#444" stroke-width="1.3"/>
<text transform="translate(453.00,292.31) scale(1.1,1)" font-size="7.9" text-anchor="end" font-weight="normal" fill="#3a3a3a" >300</text>
<line x1="500.60" x2="500.60" y1="435.10" y2="437.70" stroke="#444" stroke-width="1.3"/>
<text transform="translate(500.60,445.10) scale(1.1,1)" font-size="7.9" text-anchor="middle" font-weight="normal" fill="#3a3a3a" >0.5</text>
<line x1="572.10" x2="572.10" y1="435.10" y2="437.70" stroke="#444" stroke-width="1.3"/>
<text transform="translate(572.10,445.10) scale(1.1,1)" font-size="7.9" text-anchor="middle" font-weight="normal" fill="#3a3a3a" >1.5</text>
<line x1="643.60" x2="643.60" y1="435.10" y2="437.70" stroke="#444" stroke-width="1.3"/>
<text transform="translate(643.60,445.10) scale(1.1,1)" font-size="7.9" text-anchor="middle" font-weight="normal" fill="#3a3a3a" >2</text>
<text transform="translate(572.10,456.00) scale(1.17,1)" font-size="9.3" text-anchor="middle" font-weight="normal" fill="#1a1a1a" >Fold Change</text>
<text transform="translate(431.40,349.30) scale(1.17,1) rotate(-90)" font-size="9.3" text-anchor="middle" fill="#1a1a1a">Sample size ( <tspan font-style="italic">n</tspan> )</text>
<text transform="translate(425.85,254.40) scale(1.17,1)" font-size="11.4" text-anchor="start" font-weight="bold" fill="#000" >(e)</text>
<text transform="translate(467.70,254.40) scale(1.17,1)" font-size="11" fill="#000">ϕ = 0.2, <tspan dx="0.00">μ</tspan><tspan font-size="8.3" dx="-0.51" dy="1.9">0</tspan><tspan dx="-0.51" dy="-1.9"> = 10</tspan></text>
<line x1="732.50" x2="961.30" y1="415.89" y2="415.89" stroke="#f2f2f2" stroke-width="0.8"/>
<line x1="732.50" x2="961.30" y1="392.88" y2="392.88" stroke="#f2f2f2" stroke-width="0.8"/>
<line x1="732.50" x2="961.30" y1="369.86" y2="369.86" stroke="#f2f2f2" stroke-width="0.8"/>
<line x1="732.50" x2="961.30" y1="346.85" y2="346.85" stroke="#f2f2f2" stroke-width="0.8"/>
<line x1="732.50" x2="961.30" y1="323.83" y2="323.83" stroke="#f2f2f2" stroke-width="0.8"/>
<line x1="732.50" x2="961.30" y1="300.82" y2="300.82" stroke="#f2f2f2" stroke-width="0.8"/>
<line x1="732.50" x2="961.30" y1="277.80" y2="277.80" stroke="#f2f2f2" stroke-width="0.8"/>
<line x1="732.50" x2="961.30" y1="266.29" y2="266.29" stroke="#f8f8f8" stroke-width="0.8"/>
<line x1="732.50" x2="961.30" y1="427.40" y2="427.40" stroke="#ebebeb" stroke-width="1"/>
<line x1="732.50" x2="961.30" y1="404.38" y2="404.38" stroke="#ebebeb" stroke-width="1"/>
<line x1="732.50" x2="961.30" y1="381.37" y2="381.37" stroke="#ebebeb" stroke-width="1"/>
<line x1="732.50" x2="961.30" y1="358.35" y2="358.35" stroke="#ebebeb" stroke-width="1"/>
<line x1="732.50" x2="961.30" y1="335.34" y2="335.34" stroke="#ebebeb" stroke-width="1"/>
<line x1="732.50" x2="961.30" y1="312.32" y2="312.32" stroke="#ebebeb" stroke-width="1"/>
<line x1="732.50" x2="961.30" y1="289.31" y2="289.31" stroke="#ebebeb" stroke-width="1"/>
<line x1="775.40" x2="775.40" y1="263.50" y2="435.10" stroke="#ebebeb" stroke-width="1"/>
<line x1="846.90" x2="846.90" y1="263.50" y2="435.10" stroke="#ebebeb" stroke-width="1"/>
<line x1="918.40" x2="918.40" y1="263.50" y2="435.10" stroke="#ebebeb" stroke-width="1"/>
<rect x="743.23" y="390.58" width="16.09" height="36.82" fill="#F8766D"/>
<rect x="759.31" y="389.20" width="16.09" height="38.20" fill="#7CAE00"/>
<rect x="775.40" y="376.77" width="16.09" height="50.63" fill="#00BFC4"/>
<rect x="791.49" y="389.20" width="16.09" height="38.20" fill="#C77CFF"/>
<rect x="814.73" y="329.36" width="16.09" height="98.04" fill="#F8766D"/>
<rect x="830.81" y="327.51" width="16.09" height="99.89" fill="#7CAE00"/>
<rect x="846.90" y="295.75" width="16.09" height="131.65" fill="#00BFC4"/>
<rect x="862.99" y="327.05" width="16.09" height="100.35" fill="#C77CFF"/>
<rect x="886.23" y="394.26" width="16.09" height="33.14" fill="#F8766D"/>
<rect x="902.31" y="393.34" width="16.09" height="34.06" fill="#7CAE00"/>
<rect x="918.40" y="381.83" width="16.09" height="45.57" fill="#00BFC4"/>
<rect x="934.49" y="393.34" width="16.09" height="34.06" fill="#C77CFF"/>
<text transform="translate(751.27,387.88) scale(1.07,1)" font-size="8.1" text-anchor="middle" font-weight="normal" fill="#222"  class="bl">80</text>
<text transform="translate(767.36,386.50) scale(1.07,1)" font-size="8.1" text-anchor="middle" font-weight="normal" fill="#222"  class="bl">83</text>
<text transform="translate(783.44,374.07) scale(1.07,1)" font-size="8.1" text-anchor="middle" font-weight="normal" fill="#222"  class="bl">110</text>
<text transform="translate(799.53,386.50) scale(1.07,1)" font-size="8.1" text-anchor="middle" font-weight="normal" fill="#222"  class="bl">83</text>
<text transform="translate(822.77,326.66) scale(1.07,1)" font-size="8.1" text-anchor="middle" font-weight="normal" fill="#222"  class="bl">213</text>
<text transform="translate(838.86,324.81) scale(1.07,1)" font-size="8.1" text-anchor="middle" font-weight="normal" fill="#222"  class="bl">217</text>
<text transform="translate(854.94,293.05) scale(1.07,1)" font-size="8.1" text-anchor="middle" font-weight="normal" fill="#222"  class="bl">286</text>
<text transform="translate(871.03,324.35) scale(1.07,1)" font-size="8.1" text-anchor="middle" font-weight="normal" fill="#222"  class="bl">218</text>
<text transform="translate(894.27,391.56) scale(1.07,1)" font-size="8.1" text-anchor="middle" font-weight="normal" fill="#222"  class="bl">72</text>
<text transform="translate(910.36,390.64) scale(1.07,1)" font-size="8.1" text-anchor="middle" font-weight="normal" fill="#222"  class="bl">74</text>
<text transform="translate(926.44,379.13) scale(1.07,1)" font-size="8.1" text-anchor="middle" font-weight="normal" fill="#222"  class="bl">99</text>
<text transform="translate(942.53,390.64) scale(1.07,1)" font-size="8.1" text-anchor="middle" font-weight="normal" fill="#222"  class="bl">74</text>
<rect x="732.50" y="263.50" width="228.80" height="171.60" fill="none" stroke="#9c9c9c" stroke-width="1.6"/>
<line x1="729.90" x2="732.50" y1="427.40" y2="427.40" stroke="#444" stroke-width="1.3"/>
<text transform="translate(727.80,430.40) scale(1.1,1)" font-size="7.9" text-anchor="end" font-weight="normal" fill="#3a3a3a" >0</text>
<line x1="729.90" x2="732.50" y1="404.38" y2="404.38" stroke="#444" stroke-width="1.3"/>
<text transform="translate(727.80,407.38) scale(1.1,1)" font-size="7.9" text-anchor="end" font-weight="normal" fill="#3a3a3a" >50</text>
<line x1="729.90" x2="732.50" y1="381.37" y2="381.37" stroke="#444" stroke-width="1.3"/>
<text transform="translate(727.80,384.37) scale(1.1,1)" font-size="7.9" text-anchor="end" font-weight="normal" fill="#3a3a3a" >100</text>
<line x1="729.90" x2="732.50" y1="358.35" y2="358.35" stroke="#444" stroke-width="1.3"/>
<text transform="translate(727.80,361.35) scale(1.1,1)" font-size="7.9" text-anchor="end" font-weight="normal" fill="#3a3a3a" >150</text>
<line x1="729.90" x2="732.50" y1="335.34" y2="335.34" stroke="#444" stroke-width="1.3"/>
<text transform="translate(727.80,338.34) scale(1.1,1)" font-size="7.9" text-anchor="end" font-weight="normal" fill="#3a3a3a" >200</text>
<line x1="729.90" x2="732.50" y1="312.32" y2="312.32" stroke="#444" stroke-width="1.3"/>
<text transform="translate(727.80,315.32) scale(1.1,1)" font-size="7.9" text-anchor="end" font-weight="normal" fill="#3a3a3a" >250</text>
<line x1="729.90" x2="732.50" y1="289.31" y2="289.31" stroke="#444" stroke-width="1.3"/>
<text transform="translate(727.80,292.31) scale(1.1,1)" font-size="7.9" text-anchor="end" font-weight="normal" fill="#3a3a3a" >300</text>
<line x1="775.40" x2="775.40" y1="435.10" y2="437.70" stroke="#444" stroke-width="1.3"/>
<text transform="translate(775.40,445.10) scale(1.1,1)" font-size="7.9" text-anchor="middle" font-weight="normal" fill="#3a3a3a" >0.5</text>
<line x1="846.90" x2="846.90" y1="435.10" y2="437.70" stroke="#444" stroke-width="1.3"/>
<text transform="translate(846.90,445.10) scale(1.1,1)" font-size="7.9" text-anchor="middle" font-weight="normal" fill="#3a3a3a" >1.5</text>
<line x1="918.40" x2="918.40" y1="435.10" y2="437.70" stroke="#444" stroke-width="1.3"/>
<text transform="translate(918.40,445.10) scale(1.1,1)" font-size="7.9" text-anchor="middle" font-weight="normal" fill="#3a3a3a" >2</text>
<text transform="translate(846.90,456.00) scale(1.17,1)" font-size="9.3" text-anchor="middle" font-weight="normal" fill="#1a1a1a" >Fold Change</text>
<text transform="translate(706.20,349.30) scale(1.17,1) rotate(-90)" font-size="9.3" text-anchor="middle" fill="#1a1a1a">Sample size ( <tspan font-style="italic">n</tspan> )</text>
<text transform="translate(699.16,254.40) scale(1.17,1)" font-size="11.4" text-anchor="start" font-weight="bold" fill="#000" >(f)</text>
<text transform="translate(742.50,254.40) scale(1.17,1)" font-size="11" fill="#000">ϕ = 0.5, <tspan dx="0.00">μ</tspan><tspan font-size="8.3" dx="-0.51" dy="1.9">0</tspan><tspan dx="-0.51" dy="-1.9"> = 10</tspan></text>
<line x1="183.20" x2="406.40" y1="655.00" y2="655.00" stroke="#f2f2f2" stroke-width="0.8"/>
<line x1="183.20" x2="406.40" y1="631.20" y2="631.20" stroke="#f2f2f2" stroke-width="0.8"/>
<line x1="183.20" x2="406.40" y1="607.40" y2="607.40" stroke="#f2f2f2" stroke-width="0.8"/>
<line x1="183.20" x2="406.40" y1="583.60" y2="583.60" stroke="#f2f2f2" stroke-width="0.8"/>
<line x1="183.20" x2="406.40" y1="559.80" y2="559.80" stroke="#f2f2f2" stroke-width="0.8"/>
<line x1="183.20" x2="406.40" y1="536.00" y2="536.00" stroke="#f2f2f2" stroke-width="0.8"/>
<line x1="183.20" x2="406.40" y1="512.20" y2="512.20" stroke="#f2f2f2" stroke-width="0.8"/>
<line x1="183.20" x2="406.40" y1="666.90" y2="666.90" stroke="#ebebeb" stroke-width="1"/>
<line x1="183.20" x2="406.40" y1="643.10" y2="643.10" stroke="#ebebeb" stroke-width="1"/>
<line x1="183.20" x2="406.40" y1="619.30" y2="619.30" stroke="#ebebeb" stroke-width="1"/>
<line x1="183.20" x2="406.40" y1="595.50" y2="595.50" stroke="#ebebeb" stroke-width="1"/>
<line x1="183.20" x2="406.40" y1="571.70" y2="571.70" stroke="#ebebeb" stroke-width="1"/>
<line x1="183.20" x2="406.40" y1="547.90" y2="547.90" stroke="#ebebeb" stroke-width="1"/>
<line x1="183.20" x2="406.40" y1="524.10" y2="524.10" stroke="#ebebeb" stroke-width="1"/>
<line x1="225.05" x2="225.05" y1="502.70" y2="674.70" stroke="#ebebeb" stroke-width="1"/>
<line x1="294.80" x2="294.80" y1="502.70" y2="674.70" stroke="#ebebeb" stroke-width="1"/>
<line x1="364.55" x2="364.55" y1="502.70" y2="674.70" stroke="#ebebeb" stroke-width="1"/>
<rect x="193.66" y="652.14" width="15.69" height="14.76" fill="#F8766D"/>
<rect x="209.36" y="651.67" width="15.69" height="15.23" fill="#7CAE00"/>
<rect x="225.05" y="649.29" width="15.69" height="17.61" fill="#00BFC4"/>
<rect x="240.74" y="651.67" width="15.69" height="15.23" fill="#C77CFF"/>
<rect x="263.41" y="636.91" width="15.69" height="29.99" fill="#F8766D"/>
<rect x="279.11" y="635.96" width="15.69" height="30.94" fill="#7CAE00"/>
<rect x="294.80" y="630.72" width="15.69" height="36.18" fill="#00BFC4"/>
<rect x="310.49" y="635.96" width="15.69" height="30.94" fill="#C77CFF"/>
<rect x="333.16" y="657.38" width="15.69" height="9.52" fill="#F8766D"/>
<rect x="348.86" y="656.90" width="15.69" height="10.00" fill="#7CAE00"/>
<rect x="364.55" y="655.48" width="15.69" height="11.42" fill="#00BFC4"/>
<rect x="380.24" y="656.90" width="15.69" height="10.00" fill="#C77CFF"/>
<text transform="translate(201.51,649.44) scale(1.07,1)" font-size="8.1" text-anchor="middle" font-weight="normal" fill="#222"  class="bl">31</text>
<text transform="translate(217.20,648.97) scale(1.07,1)" font-size="8.1" text-anchor="middle" font-weight="normal" fill="#222"  class="bl">32</text>
<text transform="translate(232.90,646.59) scale(1.07,1)" font-size="8.1" text-anchor="middle" font-weight="normal" fill="#222"  class="bl">37</text>
<text transform="translate(248.59,648.97) scale(1.07,1)" font-size="8.1" text-anchor="middle" font-weight="normal" fill="#222"  class="bl">32</text>
<text transform="translate(271.26,634.21) scale(1.07,1)" font-size="8.1" text-anchor="middle" font-weight="normal" fill="#222"  class="bl">63</text>
<text transform="translate(286.95,633.26) scale(1.07,1)" font-size="8.1" text-anchor="middle" font-weight="normal" fill="#222"  class="bl">65</text>
<text transform="translate(302.65,628.02) scale(1.07,1)" font-size="8.1" text-anchor="middle" font-weight="normal" fill="#222"  class="bl">76</text>
<text transform="translate(318.34,633.26) scale(1.07,1)" font-size="8.1" text-anchor="middle" font-weight="normal" fill="#222"  class="bl">65</text>
<text transform="translate(341.01,654.68) scale(1.07,1)" font-size="8.1" text-anchor="middle" font-weight="normal" fill="#222"  class="bl">20</text>
<text transform="translate(356.70,654.20) scale(1.07,1)" font-size="8.1" text-anchor="middle" font-weight="normal" fill="#222"  class="bl">21</text>
<text transform="translate(372.40,652.78) scale(1.07,1)" font-size="8.1" text-anchor="middle" font-weight="normal" fill="#222"  class="bl">24</text>
<text transform="translate(388.09,654.20) scale(1.07,1)" font-size="8.1" text-anchor="middle" font-weight="normal" fill="#222"  class="bl">21</text>
<rect x="183.20" y="502.70" width="223.20" height="172.00" fill="none" stroke="#9c9c9c" stroke-width="1.6"/>
<line x1="180.60" x2="183.20" y1="666.90" y2="666.90" stroke="#444" stroke-width="1.3"/>
<text transform="translate(178.50,669.90) scale(1.1,1)" font-size="7.9" text-anchor="end" font-weight="normal" fill="#3a3a3a" >0</text>
<line x1="180.60" x2="183.20" y1="643.10" y2="643.10" stroke="#444" stroke-width="1.3"/>
<text transform="translate(178.50,646.10) scale(1.1,1)" font-size="7.9" text-anchor="end" font-weight="normal" fill="#3a3a3a" >50</text>
<line x1="180.60" x2="183.20" y1="619.30" y2="619.30" stroke="#444" stroke-width="1.3"/>
<text transform="translate(178.50,622.30) scale(1.1,1)" font-size="7.9" text-anchor="end" font-weight="normal" fill="#3a3a3a" >100</text>
<line x1="180.60" x2="183.20" y1="595.50" y2="595.50" stroke="#444" stroke-width="1.3"/>
<text transform="translate(178.50,598.50) scale(1.1,1)" font-size="7.9" text-anchor="end" font-weight="normal" fill="#3a3a3a" >150</text>
<line x1="180.60" x2="183.20" y1="571.70" y2="571.70" stroke="#444" stroke-width="1.3"/>
<text transform="translate(178.50,574.70) scale(1.1,1)" font-size="7.9" text-anchor="end" font-weight="normal" fill="#3a3a3a" >200</text>
<line x1="180.60" x2="183.20" y1="547.90" y2="547.90" stroke="#444" stroke-width="1.3"/>
<text transform="translate(178.50,550.90) scale(1.1,1)" font-size="7.9" text-anchor="end" font-weight="normal" fill="#3a3a3a" >250</text>
<line x1="180.60" x2="183.20" y1="524.10" y2="524.10" stroke="#444" stroke-width="1.3"/>
<text transform="translate(178.50,527.10) scale(1.1,1)" font-size="7.9" text-anchor="end" font-weight="normal" fill="#3a3a3a" >300</text>
<line x1="225.05" x2="225.05" y1="674.70" y2="677.30" stroke="#444" stroke-width="1.3"/>
<text transform="translate(225.05,685.00) scale(1.1,1)" font-size="7.9" text-anchor="middle" font-weight="normal" fill="#3a3a3a" >0.5</text>
<line x1="294.80" x2="294.80" y1="674.70" y2="677.30" stroke="#444" stroke-width="1.3"/>
<text transform="translate(294.80,685.00) scale(1.1,1)" font-size="7.9" text-anchor="middle" font-weight="normal" fill="#3a3a3a" >1.5</text>
<line x1="364.55" x2="364.55" y1="674.70" y2="677.30" stroke="#444" stroke-width="1.3"/>
<text transform="translate(364.55,685.00) scale(1.1,1)" font-size="7.9" text-anchor="middle" font-weight="normal" fill="#3a3a3a" >2</text>
<text transform="translate(294.80,695.70) scale(1.17,1)" font-size="9.3" text-anchor="middle" font-weight="normal" fill="#1a1a1a" >Fold Change</text>
<text transform="translate(156.90,588.70) scale(1.17,1) rotate(-90)" font-size="9.1" text-anchor="middle" fill="#1a1a1a">Sample size ( <tspan font-style="italic">n</tspan> )</text>
<text transform="translate(151.71,493.60) scale(1.17,1)" font-size="11.4" text-anchor="start" font-weight="bold" fill="#000" >(g)</text>
<text transform="translate(193.20,493.60) scale(1.17,1)" font-size="11" fill="#000">ϕ = 0.1, <tspan dx="-0.85">μ</tspan><tspan font-size="8.3" dx="-0.51" dy="1.9">0</tspan><tspan dx="-0.51" dy="-1.9">= 5</tspan><tspan>, </tspan><tspan dx="0.94">α</tspan><tspan font-size="10.2" dy="-1.6">*</tspan><tspan dx="0.51" dy="1.6"> = 0.000859</tspan></text>
<line x1="452.40" x2="675.60" y1="655.00" y2="655.00" stroke="#f2f2f2" stroke-width="0.8"/>
<line x1="452.40" x2="675.60" y1="631.20" y2="631.20" stroke="#f2f2f2" stroke-width="0.8"/>
<line x1="452.40" x2="675.60" y1="607.40" y2="607.40" stroke="#f2f2f2" stroke-width="0.8"/>
<line x1="452.40" x2="675.60" y1="583.60" y2="583.60" stroke="#f2f2f2" stroke-width="0.8"/>
<line x1="452.40" x2="675.60" y1="559.80" y2="559.80" stroke="#f2f2f2" stroke-width="0.8"/>
<line x1="452.40" x2="675.60" y1="536.00" y2="536.00" stroke="#f2f2f2" stroke-width="0.8"/>
<line x1="452.40" x2="675.60" y1="512.20" y2="512.20" stroke="#f2f2f2" stroke-width="0.8"/>
<line x1="452.40" x2="675.60" y1="666.90" y2="666.90" stroke="#ebebeb" stroke-width="1"/>
<line x1="452.40" x2="675.60" y1="643.10" y2="643.10" stroke="#ebebeb" stroke-width="1"/>
<line x1="452.40" x2="675.60" y1="619.30" y2="619.30" stroke="#ebebeb" stroke-width="1"/>
<line x1="452.40" x2="675.60" y1="595.50" y2="595.50" stroke="#ebebeb" stroke-width="1"/>
<line x1="452.40" x2="675.60" y1="571.70" y2="571.70" stroke="#ebebeb" stroke-width="1"/>
<line x1="452.40" x2="675.60" y1="547.90" y2="547.90" stroke="#ebebeb" stroke-width="1"/>
<line x1="452.40" x2="675.60" y1="524.10" y2="524.10" stroke="#ebebeb" stroke-width="1"/>
<line x1="494.25" x2="494.25" y1="502.70" y2="674.70" stroke="#ebebeb" stroke-width="1"/>
<line x1="564.00" x2="564.00" y1="502.70" y2="674.70" stroke="#ebebeb" stroke-width="1"/>
<line x1="633.75" x2="633.75" y1="502.70" y2="674.70" stroke="#ebebeb" stroke-width="1"/>
<rect x="462.86" y="648.34" width="15.69" height="18.56" fill="#F8766D"/>
<rect x="478.56" y="647.38" width="15.69" height="19.52" fill="#7CAE00"/>
<rect x="494.25" y="644.53" width="15.69" height="22.37" fill="#00BFC4"/>
<rect x="509.94" y="647.38" width="15.69" height="19.52" fill="#C77CFF"/>
<rect x="532.61" y="625.49" width="15.69" height="41.41" fill="#F8766D"/>
<rect x="548.31" y="623.58" width="15.69" height="43.32" fill="#7CAE00"/>
<rect x="564.00" y="617.40" width="15.69" height="49.50" fill="#00BFC4"/>
<rect x="579.69" y="623.58" width="15.69" height="43.32" fill="#C77CFF"/>
<rect x="602.36" y="653.57" width="15.69" height="13.33" fill="#F8766D"/>
<rect x="618.06" y="652.62" width="15.69" height="14.28" fill="#7CAE00"/>
<rect x="633.75" y="650.72" width="15.69" height="16.18" fill="#00BFC4"/>
<rect x="649.44" y="653.10" width="15.69" height="13.80" fill="#C77CFF"/>
<text transform="translate(470.71,645.64) scale(1.07,1)" font-size="8.1" text-anchor="middle" font-weight="normal" fill="#222"  class="bl">39</text>
<text transform="translate(486.40,644.68) scale(1.07,1)" font-size="8.1" text-anchor="middle" font-weight="normal" fill="#222"  class="bl">41</text>
<text transform="translate(502.10,641.83) scale(1.07,1)" font-size="8.1" text-anchor="middle" font-weight="normal" fill="#222"  class="bl">47</text>
<text transform="translate(517.79,644.68) scale(1.07,1)" font-size="8.1" text-anchor="middle" font-weight="normal" fill="#222"  class="bl">41</text>
<text transform="translate(540.46,622.79) scale(1.07,1)" font-size="8.1" text-anchor="middle" font-weight="normal" fill="#222"  class="bl">87</text>
<text transform="translate(556.15,620.88) scale(1.07,1)" font-size="8.1" text-anchor="middle" font-weight="normal" fill="#222"  class="bl">91</text>
<text transform="translate(571.85,614.70) scale(1.07,1)" font-size="8.1" text-anchor="middle" font-weight="normal" fill="#222"  class="bl">104</text>
<text transform="translate(587.54,620.88) scale(1.07,1)" font-size="8.1" text-anchor="middle" font-weight="normal" fill="#222"  class="bl">91</text>
<text transform="translate(610.21,650.87) scale(1.07,1)" font-size="8.1" text-anchor="middle" font-weight="normal" fill="#222"  class="bl">28</text>
<text transform="translate(625.90,649.92) scale(1.07,1)" font-size="8.1" text-anchor="middle" font-weight="normal" fill="#222"  class="bl">30</text>
<text transform="translate(641.60,648.02) scale(1.07,1)" font-size="8.1" text-anchor="middle" font-weight="normal" fill="#222"  class="bl">34</text>
<text transform="translate(657.29,650.40) scale(1.07,1)" font-size="8.1" text-anchor="middle" font-weight="normal" fill="#222"  class="bl">29</text>
<rect x="452.40" y="502.70" width="223.20" height="172.00" fill="none" stroke="#9c9c9c" stroke-width="1.6"/>
<line x1="449.80" x2="452.40" y1="666.90" y2="666.90" stroke="#444" stroke-width="1.3"/>
<text transform="translate(447.70,669.90) scale(1.1,1)" font-size="7.9" text-anchor="end" font-weight="normal" fill="#3a3a3a" >0</text>
<line x1="449.80" x2="452.40" y1="643.10" y2="643.10" stroke="#444" stroke-width="1.3"/>
<text transform="translate(447.70,646.10) scale(1.1,1)" font-size="7.9" text-anchor="end" font-weight="normal" fill="#3a3a3a" >50</text>
<line x1="449.80" x2="452.40" y1="619.30" y2="619.30" stroke="#444" stroke-width="1.3"/>
<text transform="translate(447.70,622.30) scale(1.1,1)" font-size="7.9" text-anchor="end" font-weight="normal" fill="#3a3a3a" >100</text>
<line x1="449.80" x2="452.40" y1="595.50" y2="595.50" stroke="#444" stroke-width="1.3"/>
<text transform="translate(447.70,598.50) scale(1.1,1)" font-size="7.9" text-anchor="end" font-weight="normal" fill="#3a3a3a" >150</text>
<line x1="449.80" x2="452.40" y1="571.70" y2="571.70" stroke="#444" stroke-width="1.3"/>
<text transform="translate(447.70,574.70) scale(1.1,1)" font-size="7.9" text-anchor="end" font-weight="normal" fill="#3a3a3a" >200</text>
<line x1="449.80" x2="452.40" y1="547.90" y2="547.90" stroke="#444" stroke-width="1.3"/>
<text transform="translate(447.70,550.90) scale(1.1,1)" font-size="7.9" text-anchor="end" font-weight="normal" fill="#3a3a3a" >250</text>
<line x1="449.80" x2="452.40" y1="524.10" y2="524.10" stroke="#444" stroke-width="1.3"/>
<text transform="translate(447.70,527.10) scale(1.1,1)" font-size="7.9" text-anchor="end" font-weight="normal" fill="#3a3a3a" >300</text>
<line x1="494.25" x2="494.25" y1="674.70" y2="677.30" stroke="#444" stroke-width="1.3"/>
<text transform="translate(494.25,685.00) scale(1.1,1)" font-size="7.9" text-anchor="middle" font-weight="normal" fill="#3a3a3a" >0.5</text>
<line x1="564.00" x2="564.00" y1="674.70" y2="677.30" stroke="#444" stroke-width="1.3"/>
<text transform="translate(564.00,685.00) scale(1.1,1)" font-size="7.9" text-anchor="middle" font-weight="normal" fill="#3a3a3a" >1.5</text>
<line x1="633.75" x2="633.75" y1="674.70" y2="677.30" stroke="#444" stroke-width="1.3"/>
<text transform="translate(633.75,685.00) scale(1.1,1)" font-size="7.9" text-anchor="middle" font-weight="normal" fill="#3a3a3a" >2</text>
<text transform="translate(564.00,695.70) scale(1.17,1)" font-size="9.3" text-anchor="middle" font-weight="normal" fill="#1a1a1a" >Fold Change</text>
<text transform="translate(426.10,588.70) scale(1.17,1) rotate(-90)" font-size="9.1" text-anchor="middle" fill="#1a1a1a">Sample size ( <tspan font-style="italic">n</tspan> )</text>
<text transform="translate(420.91,493.60) scale(1.17,1)" font-size="11.4" text-anchor="start" font-weight="bold" fill="#000" >(h)</text>
<text transform="translate(462.40,493.60) scale(1.17,1)" font-size="11" fill="#000">ϕ = 0.2, <tspan dx="0.00">μ</tspan><tspan font-size="8.3" dx="-0.51" dy="1.9">0</tspan><tspan dx="-0.51" dy="-1.9"> = 5</tspan></text>
<line x1="721.30" x2="944.50" y1="655.00" y2="655.00" stroke="#f2f2f2" stroke-width="0.8"/>
<line x1="721.30" x2="944.50" y1="631.20" y2="631.20" stroke="#f2f2f2" stroke-width="0.8"/>
<line x1="721.30" x2="944.50" y1="607.40" y2="607.40" stroke="#f2f2f2" stroke-width="0.8"/>
<line x1="721.30" x2="944.50" y1="583.60" y2="583.60" stroke="#f2f2f2" stroke-width="0.8"/>
<line x1="721.30" x2="944.50" y1="559.80" y2="559.80" stroke="#f2f2f2" stroke-width="0.8"/>
<line x1="721.30" x2="944.50" y1="536.00" y2="536.00" stroke="#f2f2f2" stroke-width="0.8"/>
<line x1="721.30" x2="944.50" y1="512.20" y2="512.20" stroke="#f2f2f2" stroke-width="0.8"/>
<line x1="721.30" x2="944.50" y1="666.90" y2="666.90" stroke="#ebebeb" stroke-width="1"/>
<line x1="721.30" x2="944.50" y1="643.10" y2="643.10" stroke="#ebebeb" stroke-width="1"/>
<line x1="721.30" x2="944.50" y1="619.30" y2="619.30" stroke="#ebebeb" stroke-width="1"/>
<line x1="721.30" x2="944.50" y1="595.50" y2="595.50" stroke="#ebebeb" stroke-width="1"/>
<line x1="721.30" x2="944.50" y1="571.70" y2="571.70" stroke="#ebebeb" stroke-width="1"/>
<line x1="721.30" x2="944.50" y1="547.90" y2="547.90" stroke="#ebebeb" stroke-width="1"/>
<line x1="721.30" x2="944.50" y1="524.10" y2="524.10" stroke="#ebebeb" stroke-width="1"/>
<line x1="763.15" x2="763.15" y1="502.70" y2="674.70" stroke="#ebebeb" stroke-width="1"/>
<line x1="832.90" x2="832.90" y1="502.70" y2="674.70" stroke="#ebebeb" stroke-width="1"/>
<line x1="902.65" x2="902.65" y1="502.70" y2="674.70" stroke="#ebebeb" stroke-width="1"/>
<rect x="731.76" y="636.91" width="15.69" height="29.99" fill="#F8766D"/>
<rect x="747.46" y="635.48" width="15.69" height="31.42" fill="#7CAE00"/>
<rect x="763.15" y="631.20" width="15.69" height="35.70" fill="#00BFC4"/>
<rect x="778.84" y="635.48" width="15.69" height="31.42" fill="#C77CFF"/>
<rect x="801.51" y="592.64" width="15.69" height="74.26" fill="#F8766D"/>
<rect x="817.21" y="588.84" width="15.69" height="78.06" fill="#7CAE00"/>
<rect x="832.90" y="578.84" width="15.69" height="88.06" fill="#00BFC4"/>
<rect x="848.59" y="588.36" width="15.69" height="78.54" fill="#C77CFF"/>
<rect x="871.26" y="642.15" width="15.69" height="24.75" fill="#F8766D"/>
<rect x="886.96" y="640.72" width="15.69" height="26.18" fill="#7CAE00"/>
<rect x="902.65" y="636.91" width="15.69" height="29.99" fill="#00BFC4"/>
<rect x="918.34" y="640.72" width="15.69" height="26.18" fill="#C77CFF"/>
<text transform="translate(739.61,634.21) scale(1.07,1)" font-size="8.1" text-anchor="middle" font-weight="normal" fill="#222"  class="bl">63</text>
<text transform="translate(755.30,632.78) scale(1.07,1)" font-size="8.1" text-anchor="middle" font-weight="normal" fill="#222"  class="bl">66</text>
<text transform="translate(771.00,628.50) scale(1.07,1)" font-size="8.1" text-anchor="middle" font-weight="normal" fill="#222"  class="bl">75</text>
<text transform="translate(786.69,632.78) scale(1.07,1)" font-size="8.1" text-anchor="middle" font-weight="normal" fill="#222"  class="bl">66</text>
<text transform="translate(809.36,589.94) scale(1.07,1)" font-size="8.1" text-anchor="middle" font-weight="normal" fill="#222"  class="bl">156</text>
<text transform="translate(825.05,586.14) scale(1.07,1)" font-size="8.1" text-anchor="middle" font-weight="normal" fill="#222"  class="bl">164</text>
<text transform="translate(840.75,576.14) scale(1.07,1)" font-size="8.1" text-anchor="middle" font-weight="normal" fill="#222"  class="bl">185</text>
<text transform="translate(856.44,585.66) scale(1.07,1)" font-size="8.1" text-anchor="middle" font-weight="normal" fill="#222"  class="bl">165</text>
<text transform="translate(879.11,639.45) scale(1.07,1)" font-size="8.1" text-anchor="middle" font-weight="normal" fill="#222"  class="bl">52</text>
<text transform="translate(894.80,638.02) scale(1.07,1)" font-size="8.1" text-anchor="middle" font-weight="normal" fill="#222"  class="bl">55</text>
<text transform="translate(910.50,634.21) scale(1.07,1)" font-size="8.1" text-anchor="middle" font-weight="normal" fill="#222"  class="bl">63</text>
<text transform="translate(926.19,638.02) scale(1.07,1)" font-size="8.1" text-anchor="middle" font-weight="normal" fill="#222"  class="bl">55</text>
<rect x="721.30" y="502.70" width="223.20" height="172.00" fill="none" stroke="#9c9c9c" stroke-width="1.6"/>
<line x1="718.70" x2="721.30" y1="666.90" y2="666.90" stroke="#444" stroke-width="1.3"/>
<text transform="translate(716.60,669.90) scale(1.1,1)" font-size="7.9" text-anchor="end" font-weight="normal" fill="#3a3a3a" >0</text>
<line x1="718.70" x2="721.30" y1="643.10" y2="643.10" stroke="#444" stroke-width="1.3"/>
<text transform="translate(716.60,646.10) scale(1.1,1)" font-size="7.9" text-anchor="end" font-weight="normal" fill="#3a3a3a" >50</text>
<line x1="718.70" x2="721.30" y1="619.30" y2="619.30" stroke="#444" stroke-width="1.3"/>
<text transform="translate(716.60,622.30) scale(1.1,1)" font-size="7.9" text-anchor="end" font-weight="normal" fill="#3a3a3a" >100</text>
<line x1="718.70" x2="721.30" y1="595.50" y2="595.50" stroke="#444" stroke-width="1.3"/>
<text transform="translate(716.60,598.50) scale(1.1,1)" font-size="7.9" text-anchor="end" font-weight="normal" fill="#3a3a3a" >150</text>
<line x1="718.70" x2="721.30" y1="571.70" y2="571.70" stroke="#444" stroke-width="1.3"/>
<text transform="translate(716.60,574.70) scale(1.1,1)" font-size="7.9" text-anchor="end" font-weight="normal" fill="#3a3a3a" >200</text>
<line x1="718.70" x2="721.30" y1="547.90" y2="547.90" stroke="#444" stroke-width="1.3"/>
<text transform="translate(716.60,550.90) scale(1.1,1)" font-size="7.9" text-anchor="end" font-weight="normal" fill="#3a3a3a" >250</text>
<line x1="718.70" x2="721.30" y1="524.10" y2="524.10" stroke="#444" stroke-width="1.3"/>
<text transform="translate(716.60,527.10) scale(1.1,1)" font-size="7.9" text-anchor="end" font-weight="normal" fill="#3a3a3a" >300</text>
<line x1="763.15" x2="763.15" y1="674.70" y2="677.30" stroke="#444" stroke-width="1.3"/>
<text transform="translate(763.15,685.00) scale(1.1,1)" font-size="7.9" text-anchor="middle" font-weight="normal" fill="#3a3a3a" >0.5</text>
<line x1="832.90" x2="832.90" y1="674.70" y2="677.30" stroke="#444" stroke-width="1.3"/>
<text transform="translate(832.90,685.00) scale(1.1,1)" font-size="7.9" text-anchor="middle" font-weight="normal" fill="#3a3a3a" >1.5</text>
<line x1="902.65" x2="902.65" y1="674.70" y2="677.30" stroke="#444" stroke-width="1.3"/>
<text transform="translate(902.65,685.00) scale(1.1,1)" font-size="7.9" text-anchor="middle" font-weight="normal" fill="#3a3a3a" >2</text>
<text transform="translate(832.90,695.70) scale(1.17,1)" font-size="9.3" text-anchor="middle" font-weight="normal" fill="#1a1a1a" >Fold Change</text>
<text transform="translate(695.00,588.70) scale(1.17,1) rotate(-90)" font-size="9.1" text-anchor="middle" fill="#1a1a1a">Sample size ( <tspan font-style="italic">n</tspan> )</text>
<text transform="translate(687.59,493.60) scale(1.17,1)" font-size="11.4" text-anchor="start" font-weight="bold" fill="#000" >(i)</text>
<text transform="translate(731.30,493.60) scale(1.17,1)" font-size="11" fill="#000">ϕ = 0.5, <tspan dx="0.00">μ</tspan><tspan font-size="8.3" dx="-0.51" dy="1.9">0</tspan><tspan dx="-0.51" dy="-1.9"> = 5</tspan></text>
<line x1="183.20" x2="406.40" y1="876.90" y2="876.90" stroke="#f2f2f2" stroke-width="0.8"/>
<line x1="183.20" x2="406.40" y1="853.10" y2="853.10" stroke="#f2f2f2" stroke-width="0.8"/>
<line x1="183.20" x2="406.40" y1="829.30" y2="829.30" stroke="#f2f2f2" stroke-width="0.8"/>
<line x1="183.20" x2="406.40" y1="805.50" y2="805.50" stroke="#f2f2f2" stroke-width="0.8"/>
<line x1="183.20" x2="406.40" y1="781.70" y2="781.70" stroke="#f2f2f2" stroke-width="0.8"/>
<line x1="183.20" x2="406.40" y1="757.90" y2="757.90" stroke="#f2f2f2" stroke-width="0.8"/>
<line x1="183.20" x2="406.40" y1="734.10" y2="734.10" stroke="#f2f2f2" stroke-width="0.8"/>
<line x1="183.20" x2="406.40" y1="888.80" y2="888.80" stroke="#ebebeb" stroke-width="1"/>
<line x1="183.20" x2="406.40" y1="865.00" y2="865.00" stroke="#ebebeb" stroke-width="1"/>
<line x1="183.20" x2="406.40" y1="841.20" y2="841.20" stroke="#ebebeb" stroke-width="1"/>
<line x1="183.20" x2="406.40" y1="817.40" y2="817.40" stroke="#ebebeb" stroke-width="1"/>
<line x1="183.20" x2="406.40" y1="793.60" y2="793.60" stroke="#ebebeb" stroke-width="1"/>
<line x1="183.20" x2="406.40" y1="769.80" y2="769.80" stroke="#ebebeb" stroke-width="1"/>
<line x1="183.20" x2="406.40" y1="746.00" y2="746.00" stroke="#ebebeb" stroke-width="1"/>
<line x1="225.05" x2="225.05" y1="724.80" y2="896.80" stroke="#ebebeb" stroke-width="1"/>
<line x1="294.80" x2="294.80" y1="724.80" y2="896.80" stroke="#ebebeb" stroke-width="1"/>
<line x1="364.55" x2="364.55" y1="724.80" y2="896.80" stroke="#ebebeb" stroke-width="1"/>
<rect x="193.66" y="879.76" width="15.69" height="9.04" fill="#F8766D"/>
<rect x="209.36" y="878.80" width="15.69" height="10.00" fill="#7CAE00"/>
<rect x="225.05" y="877.38" width="15.69" height="11.42" fill="#00BFC4"/>
<rect x="240.74" y="879.28" width="15.69" height="9.52" fill="#C77CFF"/>
<rect x="263.41" y="868.81" width="15.69" height="19.99" fill="#F8766D"/>
<rect x="279.11" y="867.86" width="15.69" height="20.94" fill="#7CAE00"/>
<rect x="294.80" y="864.52" width="15.69" height="24.28" fill="#00BFC4"/>
<rect x="310.49" y="867.38" width="15.69" height="21.42" fill="#C77CFF"/>
<rect x="333.16" y="882.14" width="15.69" height="6.66" fill="#F8766D"/>
<rect x="348.86" y="881.66" width="15.69" height="7.14" fill="#7CAE00"/>
<rect x="364.55" y="880.71" width="15.69" height="8.09" fill="#00BFC4"/>
<rect x="380.24" y="881.66" width="15.69" height="7.14" fill="#C77CFF"/>
<text transform="translate(201.51,877.06) scale(1.07,1)" font-size="8.1" text-anchor="middle" font-weight="normal" fill="#222"  class="bl">19</text>
<text transform="translate(217.20,876.10) scale(1.07,1)" font-size="8.1" text-anchor="middle" font-weight="normal" fill="#222"  class="bl">21</text>
<text transform="translate(232.90,874.68) scale(1.07,1)" font-size="8.1" text-anchor="middle" font-weight="normal" fill="#222"  class="bl">24</text>
<text transform="translate(248.59,876.58) scale(1.07,1)" font-size="8.1" text-anchor="middle" font-weight="normal" fill="#222"  class="bl">20</text>
<text transform="translate(271.26,866.11) scale(1.07,1)" font-size="8.1" text-anchor="middle" font-weight="normal" fill="#222"  class="bl">42</text>
<text transform="translate(286.95,865.16) scale(1.07,1)" font-size="8.1" text-anchor="middle" font-weight="normal" fill="#222"  class="bl">44</text>
<text transform="translate(302.65,861.82) scale(1.07,1)" font-size="8.1" text-anchor="middle" font-weight="normal" fill="#222"  class="bl">51</text>
<text transform="translate(318.34,864.68) scale(1.07,1)" font-size="8.1" text-anchor="middle" font-weight="normal" fill="#222"  class="bl">45</text>
<text transform="translate(341.01,879.44) scale(1.07,1)" font-size="8.1" text-anchor="middle" font-weight="normal" fill="#222"  class="bl">14</text>
<text transform="translate(356.70,878.96) scale(1.07,1)" font-size="8.1" text-anchor="middle" font-weight="normal" fill="#222"  class="bl">15</text>
<text transform="translate(372.40,878.01) scale(1.07,1)" font-size="8.1" text-anchor="middle" font-weight="normal" fill="#222"  class="bl">17</text>
<text transform="translate(388.09,878.96) scale(1.07,1)" font-size="8.1" text-anchor="middle" font-weight="normal" fill="#222"  class="bl">15</text>
<rect x="183.20" y="724.80" width="223.20" height="172.00" fill="none" stroke="#9c9c9c" stroke-width="1.6"/>
<line x1="180.60" x2="183.20" y1="888.80" y2="888.80" stroke="#444" stroke-width="1.3"/>
<text transform="translate(178.50,891.80) scale(1.1,1)" font-size="7.9" text-anchor="end" font-weight="normal" fill="#3a3a3a" >0</text>
<line x1="180.60" x2="183.20" y1="865.00" y2="865.00" stroke="#444" stroke-width="1.3"/>
<text transform="translate(178.50,868.00) scale(1.1,1)" font-size="7.9" text-anchor="end" font-weight="normal" fill="#3a3a3a" >50</text>
<line x1="180.60" x2="183.20" y1="841.20" y2="841.20" stroke="#444" stroke-width="1.3"/>
<text transform="translate(178.50,844.20) scale(1.1,1)" font-size="7.9" text-anchor="end" font-weight="normal" fill="#3a3a3a" >100</text>
<line x1="180.60" x2="183.20" y1="817.40" y2="817.40" stroke="#444" stroke-width="1.3"/>
<text transform="translate(178.50,820.40) scale(1.1,1)" font-size="7.9" text-anchor="end" font-weight="normal" fill="#3a3a3a" >150</text>
<line x1="180.60" x2="183.20" y1="793.60" y2="793.60" stroke="#444" stroke-width="1.3"/>
<text transform="translate(178.50,796.60) scale(1.1,1)" font-size="7.9" text-anchor="end" font-weight="normal" fill="#3a3a3a" >200</text>
<line x1="180.60" x2="183.20" y1="769.80" y2="769.80" stroke="#444" stroke-width="1.3"/>
<text transform="translate(178.50,772.80) scale(1.1,1)" font-size="7.9" text-anchor="end" font-weight="normal" fill="#3a3a3a" >250</text>
<line x1="180.60" x2="183.20" y1="746.00" y2="746.00" stroke="#444" stroke-width="1.3"/>
<text transform="translate(178.50,749.00) scale(1.1,1)" font-size="7.9" text-anchor="end" font-weight="normal" fill="#3a3a3a" >300</text>
<line x1="225.05" x2="225.05" y1="896.80" y2="899.40" stroke="#444" stroke-width="1.3"/>
<text transform="translate(225.05,907.10) scale(1.1,1)" font-size="7.9" text-anchor="middle" font-weight="normal" fill="#3a3a3a" >0.5</text>
<line x1="294.80" x2="294.80" y1="896.80" y2="899.40" stroke="#444" stroke-width="1.3"/>
<text transform="translate(294.80,907.10) scale(1.1,1)" font-size="7.9" text-anchor="middle" font-weight="normal" fill="#3a3a3a" >1.5</text>
<line x1="364.55" x2="364.55" y1="896.80" y2="899.40" stroke="#444" stroke-width="1.3"/>
<text transform="translate(364.55,907.10) scale(1.1,1)" font-size="7.9" text-anchor="middle" font-weight="normal" fill="#3a3a3a" >2</text>
<text transform="translate(294.80,917.80) scale(1.17,1)" font-size="9.3" text-anchor="middle" font-weight="normal" fill="#1a1a1a" >Fold Change</text>
<text transform="translate(156.90,810.80) scale(1.17,1) rotate(-90)" font-size="9.1" text-anchor="middle" fill="#1a1a1a">Sample size ( <tspan font-style="italic">n</tspan> )</text>
<text transform="translate(149.49,715.70) scale(1.17,1)" font-size="11.4" text-anchor="start" font-weight="bold" fill="#000" >(j)</text>
<text transform="translate(193.20,715.70) scale(1.17,1)" font-size="11" fill="#000">ϕ = 0.1, <tspan dx="-0.85">μ</tspan><tspan font-size="8.3" dx="-0.51" dy="1.9">0</tspan><tspan dx="-0.51" dy="-1.9"> = 10</tspan></text>
<line x1="452.40" x2="675.60" y1="876.90" y2="876.90" stroke="#f2f2f2" stroke-width="0.8"/>
<line x1="452.40" x2="675.60" y1="853.10" y2="853.10" stroke="#f2f2f2" stroke-width="0.8"/>
<line x1="452.40" x2="675.60" y1="829.30" y2="829.30" stroke="#f2f2f2" stroke-width="0.8"/>
<line x1="452.40" x2="675.60" y1="805.50" y2="805.50" stroke="#f2f2f2" stroke-width="0.8"/>
<line x1="452.40" x2="675.60" y1="781.70" y2="781.70" stroke="#f2f2f2" stroke-width="0.8"/>
<line x1="452.40" x2="675.60" y1="757.90" y2="757.90" stroke="#f2f2f2" stroke-width="0.8"/>
<line x1="452.40" x2="675.60" y1="734.10" y2="734.10" stroke="#f2f2f2" stroke-width="0.8"/>
<line x1="452.40" x2="675.60" y1="888.80" y2="888.80" stroke="#ebebeb" stroke-width="1"/>
<line x1="452.40" x2="675.60" y1="865.00" y2="865.00" stroke="#ebebeb" stroke-width="1"/>
<line x1="452.40" x2="675.60" y1="841.20" y2="841.20" stroke="#ebebeb" stroke-width="1"/>
<line x1="452.40" x2="675.60" y1="817.40" y2="817.40" stroke="#ebebeb" stroke-width="1"/>
<line x1="452.40" x2="675.60" y1="793.60" y2="793.60" stroke="#ebebeb" stroke-width="1"/>
<line x1="452.40" x2="675.60" y1="769.80" y2="769.80" stroke="#ebebeb" stroke-width="1"/>
<line x1="452.40" x2="675.60" y1="746.00" y2="746.00" stroke="#ebebeb" stroke-width="1"/>
<line x1="494.25" x2="494.25" y1="724.80" y2="896.80" stroke="#ebebeb" stroke-width="1"/>
<line x1="564.00" x2="564.00" y1="724.80" y2="896.80" stroke="#ebebeb" stroke-width="1"/>
<line x1="633.75" x2="633.75" y1="724.80" y2="896.80" stroke="#ebebeb" stroke-width="1"/>
<rect x="462.86" y="875.95" width="15.69" height="12.85" fill="#F8766D"/>
<rect x="478.56" y="875.00" width="15.69" height="13.80" fill="#7CAE00"/>
<rect x="494.25" y="873.09" width="15.69" height="15.71" fill="#00BFC4"/>
<rect x="509.94" y="875.00" width="15.69" height="13.80" fill="#C77CFF"/>
<rect x="532.61" y="857.38" width="15.69" height="31.42" fill="#F8766D"/>
<rect x="548.31" y="855.48" width="15.69" height="33.32" fill="#7CAE00"/>
<rect x="564.00" y="850.72" width="15.69" height="38.08" fill="#00BFC4"/>
<rect x="579.69" y="855.96" width="15.69" height="32.84" fill="#C77CFF"/>
<rect x="602.36" y="878.33" width="15.69" height="10.47" fill="#F8766D"/>
<rect x="618.06" y="877.85" width="15.69" height="10.95" fill="#7CAE00"/>
<rect x="633.75" y="875.95" width="15.69" height="12.85" fill="#00BFC4"/>
<rect x="649.44" y="877.85" width="15.69" height="10.95" fill="#C77CFF"/>
<text transform="translate(470.71,873.25) scale(1.07,1)" font-size="8.1" text-anchor="middle" font-weight="normal" fill="#222"  class="bl">27</text>
<text transform="translate(486.40,872.30) scale(1.07,1)" font-size="8.1" text-anchor="middle" font-weight="normal" fill="#222"  class="bl">29</text>
<text transform="translate(502.10,870.39) scale(1.07,1)" font-size="8.1" text-anchor="middle" font-weight="normal" fill="#222"  class="bl">33</text>
<text transform="translate(517.79,872.30) scale(1.07,1)" font-size="8.1" text-anchor="middle" font-weight="normal" fill="#222"  class="bl">29</text>
<text transform="translate(540.46,854.68) scale(1.07,1)" font-size="8.1" text-anchor="middle" font-weight="normal" fill="#222"  class="bl">66</text>
<text transform="translate(556.15,852.78) scale(1.07,1)" font-size="8.1" text-anchor="middle" font-weight="normal" fill="#222"  class="bl">70</text>
<text transform="translate(571.85,848.02) scale(1.07,1)" font-size="8.1" text-anchor="middle" font-weight="normal" fill="#222"  class="bl">80</text>
<text transform="translate(587.54,853.26) scale(1.07,1)" font-size="8.1" text-anchor="middle" font-weight="normal" fill="#222"  class="bl">69</text>
<text transform="translate(610.21,875.63) scale(1.07,1)" font-size="8.1" text-anchor="middle" font-weight="normal" fill="#222"  class="bl">22</text>
<text transform="translate(625.90,875.15) scale(1.07,1)" font-size="8.1" text-anchor="middle" font-weight="normal" fill="#222"  class="bl">23</text>
<text transform="translate(641.60,873.25) scale(1.07,1)" font-size="8.1" text-anchor="middle" font-weight="normal" fill="#222"  class="bl">27</text>
<text transform="translate(657.29,875.15) scale(1.07,1)" font-size="8.1" text-anchor="middle" font-weight="normal" fill="#222"  class="bl">23</text>
<rect x="452.40" y="724.80" width="223.20" height="172.00" fill="none" stroke="#9c9c9c" stroke-width="1.6"/>
<line x1="449.80" x2="452.40" y1="888.80" y2="888.80" stroke="#444" stroke-width="1.3"/>
<text transform="translate(447.70,891.80) scale(1.1,1)" font-size="7.9" text-anchor="end" font-weight="normal" fill="#3a3a3a" >0</text>
<line x1="449.80" x2="452.40" y1="865.00" y2="865.00" stroke="#444" stroke-width="1.3"/>
<text transform="translate(447.70,868.00) scale(1.1,1)" font-size="7.9" text-anchor="end" font-weight="normal" fill="#3a3a3a" >50</text>
<line x1="449.80" x2="452.40" y1="841.20" y2="841.20" stroke="#444" stroke-width="1.3"/>
<text transform="translate(447.70,844.20) scale(1.1,1)" font-size="7.9" text-anchor="end" font-weight="normal" fill="#3a3a3a" >100</text>
<line x1="449.80" x2="452.40" y1="817.40" y2="817.40" stroke="#444" stroke-width="1.3"/>
<text transform="translate(447.70,820.40) scale(1.1,1)" font-size="7.9" text-anchor="end" font-weight="normal" fill="#3a3a3a" >150</text>
<line x1="449.80" x2="452.40" y1="793.60" y2="793.60" stroke="#444" stroke-width="1.3"/>
<text transform="translate(447.70,796.60) scale(1.1,1)" font-size="7.9" text-anchor="end" font-weight="normal" fill="#3a3a3a" >200</text>
<line x1="449.80" x2="452.40" y1="769.80" y2="769.80" stroke="#444" stroke-width="1.3"/>
<text transform="translate(447.70,772.80) scale(1.1,1)" font-size="7.9" text-anchor="end" font-weight="normal" fill="#3a3a3a" >250</text>
<line x1="449.80" x2="452.40" y1="746.00" y2="746.00" stroke="#444" stroke-width="1.3"/>
<text transform="translate(447.70,749.00) scale(1.1,1)" font-size="7.9" text-anchor="end" font-weight="normal" fill="#3a3a3a" >300</text>
<line x1="494.25" x2="494.25" y1="896.80" y2="899.40" stroke="#444" stroke-width="1.3"/>
<text transform="translate(494.25,907.10) scale(1.1,1)" font-size="7.9" text-anchor="middle" font-weight="normal" fill="#3a3a3a" >0.5</text>
<line x1="564.00" x2="564.00" y1="896.80" y2="899.40" stroke="#444" stroke-width="1.3"/>
<text transform="translate(564.00,907.10) scale(1.1,1)" font-size="7.9" text-anchor="middle" font-weight="normal" fill="#3a3a3a" >1.5</text>
<line x1="633.75" x2="633.75" y1="896.80" y2="899.40" stroke="#444" stroke-width="1.3"/>
<text transform="translate(633.75,907.10) scale(1.1,1)" font-size="7.9" text-anchor="middle" font-weight="normal" fill="#3a3a3a" >2</text>
<text transform="translate(564.00,917.80) scale(1.17,1)" font-size="9.3" text-anchor="middle" font-weight="normal" fill="#1a1a1a" >Fold Change</text>
<text transform="translate(426.10,810.80) scale(1.17,1) rotate(-90)" font-size="9.1" text-anchor="middle" fill="#1a1a1a">Sample size ( <tspan font-style="italic">n</tspan> )</text>
<text transform="translate(420.55,715.70) scale(1.17,1)" font-size="11.4" text-anchor="start" font-weight="bold" fill="#000" >(k)</text>
<text transform="translate(462.40,715.70) scale(1.17,1)" font-size="11" fill="#000">ϕ = 0.2, <tspan dx="0.00">μ</tspan><tspan font-size="8.3" dx="-0.51" dy="1.9">0</tspan><tspan dx="-0.51" dy="-1.9"> = 10</tspan></text>
<line x1="721.30" x2="944.50" y1="876.90" y2="876.90" stroke="#f2f2f2" stroke-width="0.8"/>
<line x1="721.30" x2="944.50" y1="853.10" y2="853.10" stroke="#f2f2f2" stroke-width="0.8"/>
<line x1="721.30" x2="944.50" y1="829.30" y2="829.30" stroke="#f2f2f2" stroke-width="0.8"/>
<line x1="721.30" x2="944.50" y1="805.50" y2="805.50" stroke="#f2f2f2" stroke-width="0.8"/>
<line x1="721.30" x2="944.50" y1="781.70" y2="781.70" stroke="#f2f2f2" stroke-width="0.8"/>
<line x1="721.30" x2="944.50" y1="757.90" y2="757.90" stroke="#f2f2f2" stroke-width="0.8"/>
<line x1="721.30" x2="944.50" y1="734.10" y2="734.10" stroke="#f2f2f2" stroke-width="0.8"/>
<line x1="721.30" x2="944.50" y1="888.80" y2="888.80" stroke="#ebebeb" stroke-width="1"/>
<line x1="721.30" x2="944.50" y1="865.00" y2="865.00" stroke="#ebebeb" stroke-width="1"/>
<line x1="721.30" x2="944.50" y1="841.20" y2="841.20" stroke="#ebebeb" stroke-width="1"/>
<line x1="721.30" x2="944.50" y1="817.40" y2="817.40" stroke="#ebebeb" stroke-width="1"/>
<line x1="721.30" x2="944.50" y1="793.60" y2="793.60" stroke="#ebebeb" stroke-width="1"/>
<line x1="721.30" x2="944.50" y1="769.80" y2="769.80" stroke="#ebebeb" stroke-width="1"/>
<line x1="721.30" x2="944.50" y1="746.00" y2="746.00" stroke="#ebebeb" stroke-width="1"/>
<line x1="763.15" x2="763.15" y1="724.80" y2="896.80" stroke="#ebebeb" stroke-width="1"/>
<line x1="832.90" x2="832.90" y1="724.80" y2="896.80" stroke="#ebebeb" stroke-width="1"/>
<line x1="902.65" x2="902.65" y1="724.80" y2="896.80" stroke="#ebebeb" stroke-width="1"/>
<rect x="731.76" y="864.52" width="15.69" height="24.28" fill="#F8766D"/>
<rect x="747.46" y="863.57" width="15.69" height="25.23" fill="#7CAE00"/>
<rect x="763.15" y="859.29" width="15.69" height="29.51" fill="#00BFC4"/>
<rect x="778.84" y="863.57" width="15.69" height="25.23" fill="#C77CFF"/>
<rect x="801.51" y="823.59" width="15.69" height="65.21" fill="#F8766D"/>
<rect x="817.21" y="820.26" width="15.69" height="68.54" fill="#7CAE00"/>
<rect x="832.90" y="810.74" width="15.69" height="78.06" fill="#00BFC4"/>
<rect x="848.59" y="819.78" width="15.69" height="69.02" fill="#C77CFF"/>
<rect x="871.26" y="866.90" width="15.69" height="21.90" fill="#F8766D"/>
<rect x="886.96" y="865.48" width="15.69" height="23.32" fill="#7CAE00"/>
<rect x="902.65" y="861.67" width="15.69" height="27.13" fill="#00BFC4"/>
<rect x="918.34" y="865.48" width="15.69" height="23.32" fill="#C77CFF"/>
<text transform="translate(739.61,861.82) scale(1.07,1)" font-size="8.1" text-anchor="middle" font-weight="normal" fill="#222"  class="bl">51</text>
<text transform="translate(755.30,860.87) scale(1.07,1)" font-size="8.1" text-anchor="middle" font-weight="normal" fill="#222"  class="bl">53</text>
<text transform="translate(771.00,856.59) scale(1.07,1)" font-size="8.1" text-anchor="middle" font-weight="normal" fill="#222"  class="bl">62</text>
<text transform="translate(786.69,860.87) scale(1.07,1)" font-size="8.1" text-anchor="middle" font-weight="normal" fill="#222"  class="bl">53</text>
<text transform="translate(809.36,820.89) scale(1.07,1)" font-size="8.1" text-anchor="middle" font-weight="normal" fill="#222"  class="bl">137</text>
<text transform="translate(825.05,817.56) scale(1.07,1)" font-size="8.1" text-anchor="middle" font-weight="normal" fill="#222"  class="bl">144</text>
<text transform="translate(840.75,808.04) scale(1.07,1)" font-size="8.1" text-anchor="middle" font-weight="normal" fill="#222"  class="bl">164</text>
<text transform="translate(856.44,817.08) scale(1.07,1)" font-size="8.1" text-anchor="middle" font-weight="normal" fill="#222"  class="bl">145</text>
<text transform="translate(879.11,864.20) scale(1.07,1)" font-size="8.1" text-anchor="middle" font-weight="normal" fill="#222"  class="bl">46</text>
<text transform="translate(894.80,862.78) scale(1.07,1)" font-size="8.1" text-anchor="middle" font-weight="normal" fill="#222"  class="bl">49</text>
<text transform="translate(910.50,858.97) scale(1.07,1)" font-size="8.1" text-anchor="middle" font-weight="normal" fill="#222"  class="bl">57</text>
<text transform="translate(926.19,862.78) scale(1.07,1)" font-size="8.1" text-anchor="middle" font-weight="normal" fill="#222"  class="bl">49</text>
<rect x="721.30" y="724.80" width="223.20" height="172.00" fill="none" stroke="#9c9c9c" stroke-width="1.6"/>
<line x1="718.70" x2="721.30" y1="888.80" y2="888.80" stroke="#444" stroke-width="1.3"/>
<text transform="translate(716.60,891.80) scale(1.1,1)" font-size="7.9" text-anchor="end" font-weight="normal" fill="#3a3a3a" >0</text>
<line x1="718.70" x2="721.30" y1="865.00" y2="865.00" stroke="#444" stroke-width="1.3"/>
<text transform="translate(716.60,868.00) scale(1.1,1)" font-size="7.9" text-anchor="end" font-weight="normal" fill="#3a3a3a" >50</text>
<line x1="718.70" x2="721.30" y1="841.20" y2="841.20" stroke="#444" stroke-width="1.3"/>
<text transform="translate(716.60,844.20) scale(1.1,1)" font-size="7.9" text-anchor="end" font-weight="normal" fill="#3a3a3a" >100</text>
<line x1="718.70" x2="721.30" y1="817.40" y2="817.40" stroke="#444" stroke-width="1.3"/>
<text transform="translate(716.60,820.40) scale(1.1,1)" font-size="7.9" text-anchor="end" font-weight="normal" fill="#3a3a3a" >150</text>
<line x1="718.70" x2="721.30" y1="793.60" y2="793.60" stroke="#444" stroke-width="1.3"/>
<text transform="translate(716.60,796.60) scale(1.1,1)" font-size="7.9" text-anchor="end" font-weight="normal" fill="#3a3a3a" >200</text>
<line x1="718.70" x2="721.30" y1="769.80" y2="769.80" stroke="#444" stroke-width="1.3"/>
<text transform="translate(716.60,772.80) scale(1.1,1)" font-size="7.9" text-anchor="end" font-weight="normal" fill="#3a3a3a" >250</text>
<line x1="718.70" x2="721.30" y1="746.00" y2="746.00" stroke="#444" stroke-width="1.3"/>
<text transform="translate(716.60,749.00) scale(1.1,1)" font-size="7.9" text-anchor="end" font-weight="normal" fill="#3a3a3a" >300</text>
<line x1="763.15" x2="763.15" y1="896.80" y2="899.40" stroke="#444" stroke-width="1.3"/>
<text transform="translate(763.15,907.10) scale(1.1,1)" font-size="7.9" text-anchor="middle" font-weight="normal" fill="#3a3a3a" >0.5</text>
<line x1="832.90" x2="832.90" y1="896.80" y2="899.40" stroke="#444" stroke-width="1.3"/>
<text transform="translate(832.90,907.10) scale(1.1,1)" font-size="7.9" text-anchor="middle" font-weight="normal" fill="#3a3a3a" >1.5</text>
<line x1="902.65" x2="902.65" y1="896.80" y2="899.40" stroke="#444" stroke-width="1.3"/>
<text transform="translate(902.65,907.10) scale(1.1,1)" font-size="7.9" text-anchor="middle" font-weight="normal" fill="#3a3a3a" >2</text>
<text transform="translate(832.90,917.80) scale(1.17,1)" font-size="9.3" text-anchor="middle" font-weight="normal" fill="#1a1a1a" >Fold Change</text>
<text transform="translate(695.00,810.80) scale(1.17,1) rotate(-90)" font-size="9.1" text-anchor="middle" fill="#1a1a1a">Sample size ( <tspan font-style="italic">n</tspan> )</text>
<text transform="translate(687.59,715.70) scale(1.17,1)" font-size="11.4" text-anchor="start" font-weight="bold" fill="#000" >(l)</text>
<text transform="translate(731.30,715.70) scale(1.17,1)" font-size="11" fill="#000">ϕ = 0.5, <tspan dx="0.00">μ</tspan><tspan font-size="8.3" dx="-0.51" dy="1.9">0</tspan><tspan dx="-0.51" dy="-1.9"> = 10</tspan></text>
<text transform="translate(972.00,213.80) scale(1.17,1)" font-size="9.3" text-anchor="start" font-weight="normal" fill="#000" >Covariate 2</text>
<rect x="973.00" y="220.20" width="15.00" height="12.70" fill="#F8766D"/>
<text transform="translate(993.60,229.15) scale(1.17,1)" font-size="7.4" text-anchor="start" font-weight="normal" fill="#000" >none</text>
<rect x="973.00" y="234.65" width="15.00" height="12.70" fill="#7CAE00"/>
<text transform="translate(993.60,243.60) scale(1.17,1)" font-size="7.4" text-anchor="start" font-weight="normal" fill="#000" >I(0.2, 0.3, 0.3, 0.2)</text>
<rect x="973.00" y="249.10" width="15.00" height="12.70" fill="#00BFC4"/>
<text transform="translate(993.60,258.05) scale(1.17,1)" font-size="7.4" text-anchor="start" font-weight="normal" fill="#000" >II(0.1, 0.4, 0.4, 0.1)</text>
<rect x="973.00" y="263.55" width="15.00" height="12.70" fill="#C77CFF"/>
<text transform="translate(993.60,272.50) scale(1.17,1)" font-size="7.4" text-anchor="start" font-weight="normal" fill="#000" >III(0.1, 0.3, 0.4, 0.2)</text>
<text transform="translate(955.00,674.80) scale(1.17,1)" font-size="9.3" text-anchor="start" font-weight="normal" fill="#000" >Covariate 2</text>
<rect x="956.00" y="681.10" width="15.40" height="12.80" fill="#F8766D"/>
<text transform="translate(977.20,690.10) scale(1.17,1)" font-size="7.4" text-anchor="start" font-weight="normal" fill="#000" >none</text>
<rect x="956.00" y="695.60" width="15.40" height="12.80" fill="#7CAE00"/>
<text transform="translate(977.20,704.60) scale(1.17,1)" font-size="7.4" text-anchor="start" font-weight="normal" fill="#000" >I(0.2, 0.3, 0.3, 0.2)</text>
<rect x="956.00" y="710.10" width="15.40" height="12.80" fill="#00BFC4"/>
<text transform="translate(977.20,719.10) scale(1.17,1)" font-size="7.4" text-anchor="start" font-weight="normal" fill="#000" >II(0.15, 0.35, 0.35, 0.15)</text>
<rect x="956.00" y="724.60" width="15.40" height="12.80" fill="#C77CFF"/>
<text transform="translate(977.20,733.60) scale(1.17,1)" font-size="7.4" text-anchor="start" font-weight="normal" fill="#000" >III(0.1, 0.3, 0.4, 0.2)</text>
<text x="101.00" y="34.80" font-size="18" fill="#000">A.</text>
<text x="16.00" y="224.30" font-size="15.6" fill="#000">Covariate 1</text>
<text x="13.50" y="247.50" font-size="15.6" fill="#000">N0(0, 1) and</text>
<text x="13.50" y="266.50" font-size="15.6" fill="#000">N1(1.5, 1)</text>
<text x="100.30" y="499.70" font-size="18.5" fill="#000">B.</text>
<text x="30.80" y="673.20" font-size="15.6" fill="#000">Covariate 1</text>
<text x="24.00" y="698.40" font-size="15.6" fill="#000">N0(40, 2) and</text>
<text x="24.00" y="717.20" font-size="15.6" fill="#000">N1(40, 5)</text>
</g>
</svg>
</body></html>
